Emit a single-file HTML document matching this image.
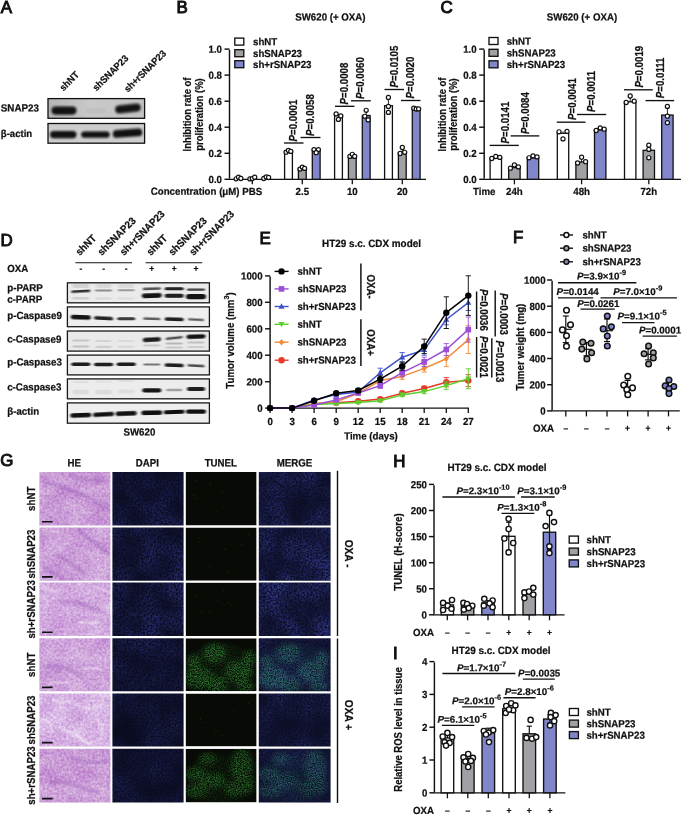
<!DOCTYPE html>
<html lang="en">
<head>
<meta charset="utf-8">
<title>Figure: SNAP23 and oxaliplatin sensitivity</title>
<style>
html,body{margin:0;padding:0;background:#fff;}
body{width:685px;height:815px;overflow:hidden;}
svg{display:block;font-family:"Liberation Sans",Arial,Helvetica,sans-serif;}
</style>
</head>
<body>
<svg width="685" height="815" viewBox="0 0 685 815">
<defs>
<filter id="b1" x="-0.2" y="-0.6" width="1.4" height="2.2"><feGaussianBlur stdDeviation="0.8 0.55"/></filter>
<filter id="b2" x="-0.2" y="-0.6" width="1.4" height="2.2"><feGaussianBlur stdDeviation="1.3 0.9"/></filter>
<linearGradient id="gA1" x1="0" x2="1" y1="0" y2="0"><stop offset="0" stop-color="#b4b4b4"/><stop offset="0.45" stop-color="#c9c9c9"/><stop offset="1" stop-color="#c2c2c2"/></linearGradient>
<clipPath id="clipA1"><rect x="48.0" y="98.6" width="96.6" height="19.7"/></clipPath>
<clipPath id="clipA2"><rect x="48.0" y="123.5" width="96.6" height="19.7"/></clipPath>
<filter id="gsp" x="-0.3" y="-0.3" width="1.6" height="1.6" color-interpolation-filters="sRGB">
<feGaussianBlur in="SourceGraphic" stdDeviation="2.4" result="b"/>
<feTurbulence type="fractalNoise" baseFrequency="0.85" numOctaves="2" seed="5" result="n"/>
<feColorMatrix in="n" type="matrix" values="0 0 0 0 1  0 0 0 0 1  0 0 0 0 1  2.4 0 0 0 -0.72" result="m"/>
<feComposite in="b" in2="m" operator="in"/>
</filter>
<filter id="soft" x="-0.3" y="-0.3" width="1.6" height="1.6"><feGaussianBlur stdDeviation="1.4"/></filter>
<filter id="soft0" x="-0.3" y="-0.5" width="1.6" height="2"><feGaussianBlur stdDeviation="1.0"/></filter>
<filter id="soft2" x="-0.3" y="-0.3" width="1.6" height="1.6"><feGaussianBlur stdDeviation="2.6"/></filter>
<clipPath id="c00"><rect x="39.4" y="472.0" width="71.0" height="53.5"/></clipPath>
<filter id="he0" x="0" y="0" width="1" height="1" color-interpolation-filters="sRGB">
<feTurbulence type="fractalNoise" baseFrequency="0.045 0.06" numOctaves="3" seed="3" result="n1"/>
<feColorMatrix in="n1" type="matrix" values="1 0 0 0 0  1 0 0 0 0  1 0 0 0 0  0 0 0 0 1" result="c1"/>
<feTurbulence type="fractalNoise" baseFrequency="0.42" numOctaves="2" seed="6" result="n2"/>
<feColorMatrix in="n2" type="matrix" values="1 0 0 0 0  1 0 0 0 0  1 0 0 0 0  0 0 0 0 1" result="c2"/>
<feComposite in="c1" in2="c2" operator="arithmetic" k1="0" k2="0.36" k3="0.64" k4="0" result="m"/>
<feColorMatrix in="m" type="matrix" values="0.30 0 0 0 0.640  0.62 0 0 0 0.300  0.22 0 0 0 0.730  0 0 0 0 1" result="o"/>
<feGaussianBlur in="o" stdDeviation="0.55"/>
</filter>
<clipPath id="c01"><rect x="112.4" y="472.0" width="71.2" height="53.5"/></clipPath>
<filter id="da0" x="0" y="0" width="1" height="1" color-interpolation-filters="sRGB">
<feTurbulence type="fractalNoise" baseFrequency="0.035" numOctaves="2" seed="20" result="lo"/>
<feColorMatrix in="lo" type="matrix" values="1.8 0 0 0 -0.35  1.8 0 0 0 -0.35  1.8 0 0 0 -0.35  0 0 0 0 1" result="lo1"/>
<feTurbulence type="fractalNoise" baseFrequency="0.55" numOctaves="2" seed="31" result="hi"/>
<feColorMatrix in="hi" type="matrix" values="2.4 0 0 0 -0.7  2.4 0 0 0 -0.7  2.4 0 0 0 -0.7  0 0 0 0 1" result="hi1"/>
<feComposite in="lo1" in2="hi1" operator="arithmetic" k1="1" k2="0" k3="0" k4="0" result="m"/>
<feColorMatrix in="m" type="matrix" values="0.095 0 0 0 0.040  0.109 0 0 0 0.045  0.257 0 0 0 0.125  0 0 0 0 1" result="o"/>
<feGaussianBlur in="o" stdDeviation="0.4"/>
</filter>
<clipPath id="c02"><rect x="185.6" y="472.0" width="71.0" height="53.5"/></clipPath>
<clipPath id="c03"><rect x="258.8" y="472.0" width="71.8" height="53.5"/></clipPath>
<filter id="me0" x="0" y="0" width="1" height="1" color-interpolation-filters="sRGB">
<feTurbulence type="fractalNoise" baseFrequency="0.035" numOctaves="2" seed="20" result="lo"/>
<feColorMatrix in="lo" type="matrix" values="1.8 0 0 0 -0.35  1.8 0 0 0 -0.35  1.8 0 0 0 -0.35  0 0 0 0 1" result="lo1"/>
<feTurbulence type="fractalNoise" baseFrequency="0.55" numOctaves="2" seed="31" result="hi"/>
<feColorMatrix in="hi" type="matrix" values="2.4 0 0 0 -0.7  2.4 0 0 0 -0.7  2.4 0 0 0 -0.7  0 0 0 0 1" result="hi1"/>
<feComposite in="lo1" in2="hi1" operator="arithmetic" k1="1" k2="0" k3="0" k4="0" result="m"/>
<feColorMatrix in="m" type="matrix" values="0.125 0 0 0 0.045  0.144 0 0 0 0.052  0.338 0 0 0 0.140  0 0 0 0 1" result="o"/>
<feGaussianBlur in="o" stdDeviation="0.4"/>
</filter>
<clipPath id="c10"><rect x="39.4" y="527.5" width="71.0" height="53.2"/></clipPath>
<filter id="he1" x="0" y="0" width="1" height="1" color-interpolation-filters="sRGB">
<feTurbulence type="fractalNoise" baseFrequency="0.045 0.06" numOctaves="3" seed="10" result="n1"/>
<feColorMatrix in="n1" type="matrix" values="1 0 0 0 0  1 0 0 0 0  1 0 0 0 0  0 0 0 0 1" result="c1"/>
<feTurbulence type="fractalNoise" baseFrequency="0.42" numOctaves="2" seed="13" result="n2"/>
<feColorMatrix in="n2" type="matrix" values="1 0 0 0 0  1 0 0 0 0  1 0 0 0 0  0 0 0 0 1" result="c2"/>
<feComposite in="c1" in2="c2" operator="arithmetic" k1="0" k2="0.36" k3="0.64" k4="0" result="m"/>
<feColorMatrix in="m" type="matrix" values="0.30 0 0 0 0.650  0.62 0 0 0 0.318  0.22 0 0 0 0.740  0 0 0 0 1" result="o"/>
<feGaussianBlur in="o" stdDeviation="0.55"/>
</filter>
<clipPath id="c11"><rect x="112.4" y="527.5" width="71.2" height="53.2"/></clipPath>
<filter id="da1" x="0" y="0" width="1" height="1" color-interpolation-filters="sRGB">
<feTurbulence type="fractalNoise" baseFrequency="0.035" numOctaves="2" seed="25" result="lo"/>
<feColorMatrix in="lo" type="matrix" values="1.8 0 0 0 -0.35  1.8 0 0 0 -0.35  1.8 0 0 0 -0.35  0 0 0 0 1" result="lo1"/>
<feTurbulence type="fractalNoise" baseFrequency="0.55" numOctaves="2" seed="36" result="hi"/>
<feColorMatrix in="hi" type="matrix" values="2.4 0 0 0 -0.7  2.4 0 0 0 -0.7  2.4 0 0 0 -0.7  0 0 0 0 1" result="hi1"/>
<feComposite in="lo1" in2="hi1" operator="arithmetic" k1="1" k2="0" k3="0" k4="0" result="m"/>
<feColorMatrix in="m" type="matrix" values="0.105 0 0 0 0.040  0.121 0 0 0 0.045  0.284 0 0 0 0.125  0 0 0 0 1" result="o"/>
<feGaussianBlur in="o" stdDeviation="0.4"/>
</filter>
<clipPath id="c12"><rect x="185.6" y="527.5" width="71.0" height="53.2"/></clipPath>
<clipPath id="c13"><rect x="258.8" y="527.5" width="71.8" height="53.2"/></clipPath>
<filter id="me1" x="0" y="0" width="1" height="1" color-interpolation-filters="sRGB">
<feTurbulence type="fractalNoise" baseFrequency="0.035" numOctaves="2" seed="25" result="lo"/>
<feColorMatrix in="lo" type="matrix" values="1.8 0 0 0 -0.35  1.8 0 0 0 -0.35  1.8 0 0 0 -0.35  0 0 0 0 1" result="lo1"/>
<feTurbulence type="fractalNoise" baseFrequency="0.55" numOctaves="2" seed="36" result="hi"/>
<feColorMatrix in="hi" type="matrix" values="2.4 0 0 0 -0.7  2.4 0 0 0 -0.7  2.4 0 0 0 -0.7  0 0 0 0 1" result="hi1"/>
<feComposite in="lo1" in2="hi1" operator="arithmetic" k1="1" k2="0" k3="0" k4="0" result="m"/>
<feColorMatrix in="m" type="matrix" values="0.140 0 0 0 0.045  0.161 0 0 0 0.052  0.378 0 0 0 0.140  0 0 0 0 1" result="o"/>
<feGaussianBlur in="o" stdDeviation="0.4"/>
</filter>
<clipPath id="c20"><rect x="39.4" y="582.6" width="71.0" height="53.5"/></clipPath>
<filter id="he2" x="0" y="0" width="1" height="1" color-interpolation-filters="sRGB">
<feTurbulence type="fractalNoise" baseFrequency="0.045 0.06" numOctaves="3" seed="17" result="n1"/>
<feColorMatrix in="n1" type="matrix" values="1 0 0 0 0  1 0 0 0 0  1 0 0 0 0  0 0 0 0 1" result="c1"/>
<feTurbulence type="fractalNoise" baseFrequency="0.42" numOctaves="2" seed="20" result="n2"/>
<feColorMatrix in="n2" type="matrix" values="1 0 0 0 0  1 0 0 0 0  1 0 0 0 0  0 0 0 0 1" result="c2"/>
<feComposite in="c1" in2="c2" operator="arithmetic" k1="0" k2="0.36" k3="0.64" k4="0" result="m"/>
<feColorMatrix in="m" type="matrix" values="0.30 0 0 0 0.670  0.62 0 0 0 0.354  0.22 0 0 0 0.760  0 0 0 0 1" result="o"/>
<feGaussianBlur in="o" stdDeviation="0.55"/>
</filter>
<clipPath id="c21"><rect x="112.4" y="582.6" width="71.2" height="53.5"/></clipPath>
<filter id="da2" x="0" y="0" width="1" height="1" color-interpolation-filters="sRGB">
<feTurbulence type="fractalNoise" baseFrequency="0.035" numOctaves="2" seed="30" result="lo"/>
<feColorMatrix in="lo" type="matrix" values="1.8 0 0 0 -0.35  1.8 0 0 0 -0.35  1.8 0 0 0 -0.35  0 0 0 0 1" result="lo1"/>
<feTurbulence type="fractalNoise" baseFrequency="0.55" numOctaves="2" seed="41" result="hi"/>
<feColorMatrix in="hi" type="matrix" values="2.4 0 0 0 -0.7  2.4 0 0 0 -0.7  2.4 0 0 0 -0.7  0 0 0 0 1" result="hi1"/>
<feComposite in="lo1" in2="hi1" operator="arithmetic" k1="1" k2="0" k3="0" k4="0" result="m"/>
<feColorMatrix in="m" type="matrix" values="0.120 0 0 0 0.040  0.138 0 0 0 0.045  0.324 0 0 0 0.125  0 0 0 0 1" result="o"/>
<feGaussianBlur in="o" stdDeviation="0.4"/>
</filter>
<clipPath id="c22"><rect x="185.6" y="582.6" width="71.0" height="53.5"/></clipPath>
<clipPath id="c23"><rect x="258.8" y="582.6" width="71.8" height="53.5"/></clipPath>
<filter id="me2" x="0" y="0" width="1" height="1" color-interpolation-filters="sRGB">
<feTurbulence type="fractalNoise" baseFrequency="0.035" numOctaves="2" seed="30" result="lo"/>
<feColorMatrix in="lo" type="matrix" values="1.8 0 0 0 -0.35  1.8 0 0 0 -0.35  1.8 0 0 0 -0.35  0 0 0 0 1" result="lo1"/>
<feTurbulence type="fractalNoise" baseFrequency="0.55" numOctaves="2" seed="41" result="hi"/>
<feColorMatrix in="hi" type="matrix" values="2.4 0 0 0 -0.7  2.4 0 0 0 -0.7  2.4 0 0 0 -0.7  0 0 0 0 1" result="hi1"/>
<feComposite in="lo1" in2="hi1" operator="arithmetic" k1="1" k2="0" k3="0" k4="0" result="m"/>
<feColorMatrix in="m" type="matrix" values="0.150 0 0 0 0.045  0.173 0 0 0 0.052  0.405 0 0 0 0.140  0 0 0 0 1" result="o"/>
<feGaussianBlur in="o" stdDeviation="0.4"/>
</filter>
<clipPath id="c30"><rect x="39.4" y="638.3" width="71.0" height="52.9"/></clipPath>
<filter id="he3" x="0" y="0" width="1" height="1" color-interpolation-filters="sRGB">
<feTurbulence type="fractalNoise" baseFrequency="0.045 0.06" numOctaves="3" seed="24" result="n1"/>
<feColorMatrix in="n1" type="matrix" values="1 0 0 0 0  1 0 0 0 0  1 0 0 0 0  0 0 0 0 1" result="c1"/>
<feTurbulence type="fractalNoise" baseFrequency="0.42" numOctaves="2" seed="27" result="n2"/>
<feColorMatrix in="n2" type="matrix" values="1 0 0 0 0  1 0 0 0 0  1 0 0 0 0  0 0 0 0 1" result="c2"/>
<feComposite in="c1" in2="c2" operator="arithmetic" k1="0" k2="0.36" k3="0.64" k4="0" result="m"/>
<feColorMatrix in="m" type="matrix" values="0.30 0 0 0 0.655  0.62 0 0 0 0.327  0.22 0 0 0 0.745  0 0 0 0 1" result="o"/>
<feGaussianBlur in="o" stdDeviation="0.55"/>
</filter>
<clipPath id="c31"><rect x="112.4" y="638.3" width="71.2" height="52.9"/></clipPath>
<filter id="da3" x="0" y="0" width="1" height="1" color-interpolation-filters="sRGB">
<feTurbulence type="fractalNoise" baseFrequency="0.035" numOctaves="2" seed="35" result="lo"/>
<feColorMatrix in="lo" type="matrix" values="1.8 0 0 0 -0.35  1.8 0 0 0 -0.35  1.8 0 0 0 -0.35  0 0 0 0 1" result="lo1"/>
<feTurbulence type="fractalNoise" baseFrequency="0.55" numOctaves="2" seed="46" result="hi"/>
<feColorMatrix in="hi" type="matrix" values="2.4 0 0 0 -0.7  2.4 0 0 0 -0.7  2.4 0 0 0 -0.7  0 0 0 0 1" result="hi1"/>
<feComposite in="lo1" in2="hi1" operator="arithmetic" k1="1" k2="0" k3="0" k4="0" result="m"/>
<feColorMatrix in="m" type="matrix" values="0.085 0 0 0 0.040  0.098 0 0 0 0.045  0.230 0 0 0 0.125  0 0 0 0 1" result="o"/>
<feGaussianBlur in="o" stdDeviation="0.4"/>
</filter>
<clipPath id="c32"><rect x="185.6" y="638.3" width="71.0" height="52.9"/></clipPath>
<clipPath id="c33"><rect x="258.8" y="638.3" width="71.8" height="52.9"/></clipPath>
<filter id="me3" x="0" y="0" width="1" height="1" color-interpolation-filters="sRGB">
<feTurbulence type="fractalNoise" baseFrequency="0.035" numOctaves="2" seed="35" result="lo"/>
<feColorMatrix in="lo" type="matrix" values="1.8 0 0 0 -0.35  1.8 0 0 0 -0.35  1.8 0 0 0 -0.35  0 0 0 0 1" result="lo1"/>
<feTurbulence type="fractalNoise" baseFrequency="0.55" numOctaves="2" seed="46" result="hi"/>
<feColorMatrix in="hi" type="matrix" values="2.4 0 0 0 -0.7  2.4 0 0 0 -0.7  2.4 0 0 0 -0.7  0 0 0 0 1" result="hi1"/>
<feComposite in="lo1" in2="hi1" operator="arithmetic" k1="1" k2="0" k3="0" k4="0" result="m"/>
<feColorMatrix in="m" type="matrix" values="0.095 0 0 0 0.045  0.109 0 0 0 0.052  0.257 0 0 0 0.140  0 0 0 0 1" result="o"/>
<feGaussianBlur in="o" stdDeviation="0.4"/>
</filter>
<clipPath id="c40"><rect x="39.4" y="693.5" width="71.0" height="52.9"/></clipPath>
<filter id="he4" x="0" y="0" width="1" height="1" color-interpolation-filters="sRGB">
<feTurbulence type="fractalNoise" baseFrequency="0.045 0.06" numOctaves="3" seed="31" result="n1"/>
<feColorMatrix in="n1" type="matrix" values="1 0 0 0 0  1 0 0 0 0  1 0 0 0 0  0 0 0 0 1" result="c1"/>
<feTurbulence type="fractalNoise" baseFrequency="0.42" numOctaves="2" seed="34" result="n2"/>
<feColorMatrix in="n2" type="matrix" values="1 0 0 0 0  1 0 0 0 0  1 0 0 0 0  0 0 0 0 1" result="c2"/>
<feComposite in="c1" in2="c2" operator="arithmetic" k1="0" k2="0.36" k3="0.64" k4="0" result="m"/>
<feColorMatrix in="m" type="matrix" values="0.30 0 0 0 0.690  0.62 0 0 0 0.390  0.22 0 0 0 0.780  0 0 0 0 1" result="o"/>
<feGaussianBlur in="o" stdDeviation="0.55"/>
</filter>
<clipPath id="c41"><rect x="112.4" y="693.5" width="71.2" height="52.9"/></clipPath>
<filter id="da4" x="0" y="0" width="1" height="1" color-interpolation-filters="sRGB">
<feTurbulence type="fractalNoise" baseFrequency="0.035" numOctaves="2" seed="40" result="lo"/>
<feColorMatrix in="lo" type="matrix" values="1.8 0 0 0 -0.35  1.8 0 0 0 -0.35  1.8 0 0 0 -0.35  0 0 0 0 1" result="lo1"/>
<feTurbulence type="fractalNoise" baseFrequency="0.55" numOctaves="2" seed="51" result="hi"/>
<feColorMatrix in="hi" type="matrix" values="2.4 0 0 0 -0.7  2.4 0 0 0 -0.7  2.4 0 0 0 -0.7  0 0 0 0 1" result="hi1"/>
<feComposite in="lo1" in2="hi1" operator="arithmetic" k1="1" k2="0" k3="0" k4="0" result="m"/>
<feColorMatrix in="m" type="matrix" values="0.070 0 0 0 0.040  0.081 0 0 0 0.045  0.189 0 0 0 0.125  0 0 0 0 1" result="o"/>
<feGaussianBlur in="o" stdDeviation="0.4"/>
</filter>
<clipPath id="c42"><rect x="185.6" y="693.5" width="71.0" height="52.9"/></clipPath>
<clipPath id="c43"><rect x="258.8" y="693.5" width="71.8" height="52.9"/></clipPath>
<filter id="me4" x="0" y="0" width="1" height="1" color-interpolation-filters="sRGB">
<feTurbulence type="fractalNoise" baseFrequency="0.035" numOctaves="2" seed="40" result="lo"/>
<feColorMatrix in="lo" type="matrix" values="1.8 0 0 0 -0.35  1.8 0 0 0 -0.35  1.8 0 0 0 -0.35  0 0 0 0 1" result="lo1"/>
<feTurbulence type="fractalNoise" baseFrequency="0.55" numOctaves="2" seed="51" result="hi"/>
<feColorMatrix in="hi" type="matrix" values="2.4 0 0 0 -0.7  2.4 0 0 0 -0.7  2.4 0 0 0 -0.7  0 0 0 0 1" result="hi1"/>
<feComposite in="lo1" in2="hi1" operator="arithmetic" k1="1" k2="0" k3="0" k4="0" result="m"/>
<feColorMatrix in="m" type="matrix" values="0.080 0 0 0 0.045  0.092 0 0 0 0.052  0.216 0 0 0 0.140  0 0 0 0 1" result="o"/>
<feGaussianBlur in="o" stdDeviation="0.4"/>
</filter>
<clipPath id="c50"><rect x="39.4" y="748.7" width="71.0" height="53.7"/></clipPath>
<filter id="he5" x="0" y="0" width="1" height="1" color-interpolation-filters="sRGB">
<feTurbulence type="fractalNoise" baseFrequency="0.045 0.06" numOctaves="3" seed="38" result="n1"/>
<feColorMatrix in="n1" type="matrix" values="1 0 0 0 0  1 0 0 0 0  1 0 0 0 0  0 0 0 0 1" result="c1"/>
<feTurbulence type="fractalNoise" baseFrequency="0.42" numOctaves="2" seed="41" result="n2"/>
<feColorMatrix in="n2" type="matrix" values="1 0 0 0 0  1 0 0 0 0  1 0 0 0 0  0 0 0 0 1" result="c2"/>
<feComposite in="c1" in2="c2" operator="arithmetic" k1="0" k2="0.36" k3="0.64" k4="0" result="m"/>
<feColorMatrix in="m" type="matrix" values="0.30 0 0 0 0.640  0.62 0 0 0 0.300  0.22 0 0 0 0.730  0 0 0 0 1" result="o"/>
<feGaussianBlur in="o" stdDeviation="0.55"/>
</filter>
<clipPath id="c51"><rect x="112.4" y="748.7" width="71.2" height="53.7"/></clipPath>
<filter id="da5" x="0" y="0" width="1" height="1" color-interpolation-filters="sRGB">
<feTurbulence type="fractalNoise" baseFrequency="0.035" numOctaves="2" seed="45" result="lo"/>
<feColorMatrix in="lo" type="matrix" values="1.8 0 0 0 -0.35  1.8 0 0 0 -0.35  1.8 0 0 0 -0.35  0 0 0 0 1" result="lo1"/>
<feTurbulence type="fractalNoise" baseFrequency="0.55" numOctaves="2" seed="56" result="hi"/>
<feColorMatrix in="hi" type="matrix" values="2.4 0 0 0 -0.7  2.4 0 0 0 -0.7  2.4 0 0 0 -0.7  0 0 0 0 1" result="hi1"/>
<feComposite in="lo1" in2="hi1" operator="arithmetic" k1="1" k2="0" k3="0" k4="0" result="m"/>
<feColorMatrix in="m" type="matrix" values="0.070 0 0 0 0.040  0.081 0 0 0 0.045  0.189 0 0 0 0.125  0 0 0 0 1" result="o"/>
<feGaussianBlur in="o" stdDeviation="0.4"/>
</filter>
<clipPath id="c52"><rect x="185.6" y="748.7" width="71.0" height="53.7"/></clipPath>
<clipPath id="c53"><rect x="258.8" y="748.7" width="71.8" height="53.7"/></clipPath>
<filter id="me5" x="0" y="0" width="1" height="1" color-interpolation-filters="sRGB">
<feTurbulence type="fractalNoise" baseFrequency="0.035" numOctaves="2" seed="45" result="lo"/>
<feColorMatrix in="lo" type="matrix" values="1.8 0 0 0 -0.35  1.8 0 0 0 -0.35  1.8 0 0 0 -0.35  0 0 0 0 1" result="lo1"/>
<feTurbulence type="fractalNoise" baseFrequency="0.55" numOctaves="2" seed="56" result="hi"/>
<feColorMatrix in="hi" type="matrix" values="2.4 0 0 0 -0.7  2.4 0 0 0 -0.7  2.4 0 0 0 -0.7  0 0 0 0 1" result="hi1"/>
<feComposite in="lo1" in2="hi1" operator="arithmetic" k1="1" k2="0" k3="0" k4="0" result="m"/>
<feColorMatrix in="m" type="matrix" values="0.080 0 0 0 0.045  0.092 0 0 0 0.052  0.216 0 0 0 0.140  0 0 0 0 1" result="o"/>
<feGaussianBlur in="o" stdDeviation="0.4"/>
</filter>
</defs>
<rect x="0" y="0" width="685" height="815" fill="#ffffff"/>
<text x="0.2" y="466.2" font-size="16.9" font-weight="normal" fill="#111" stroke="#111" stroke-width="1.0">G</text>
<text transform="translate(74.3 466.5) rotate(0.05) scale(1.000 1.120)" font-size="9.70" text-anchor="middle" font-weight="bold" fill="#111" stroke="#111" stroke-width="0.22">HE</text>
<text transform="translate(147.3 466.5) rotate(0.05) scale(1.000 1.120)" font-size="9.70" text-anchor="middle" font-weight="bold" fill="#111" stroke="#111" stroke-width="0.22">DAPI</text>
<text transform="translate(220.8 466.5) rotate(0.05) scale(1.000 1.120)" font-size="9.70" text-anchor="middle" font-weight="bold" fill="#111" stroke="#111" stroke-width="0.22">TUNEL</text>
<text transform="translate(294.4 466.5) rotate(0.05) scale(1.000 1.120)" font-size="9.70" text-anchor="middle" font-weight="bold" fill="#111" stroke="#111" stroke-width="0.22">MERGE</text>
<text transform="translate(35.3 498.8) rotate(-90) scale(1.000 1.130)" font-size="9.70" text-anchor="middle" font-weight="bold" fill="#111" stroke="#111" stroke-width="0.22">shNT</text>
<text transform="translate(35.3 554.1) rotate(-90) scale(1.000 1.130)" font-size="9.70" text-anchor="middle" font-weight="bold" fill="#111" stroke="#111" stroke-width="0.22">shSNAP23</text>
<text transform="translate(35.3 609.4) rotate(-90) scale(1.000 1.130)" font-size="9.70" text-anchor="middle" font-weight="bold" fill="#111" stroke="#111" stroke-width="0.22">sh+rSNAP23</text>
<text transform="translate(35.3 664.8) rotate(-90) scale(1.000 1.130)" font-size="9.70" text-anchor="middle" font-weight="bold" fill="#111" stroke="#111" stroke-width="0.22">shNT</text>
<text transform="translate(35.3 720.0) rotate(-90) scale(1.000 1.130)" font-size="9.70" text-anchor="middle" font-weight="bold" fill="#111" stroke="#111" stroke-width="0.22">shSNAP23</text>
<text transform="translate(35.3 775.5) rotate(-90) scale(1.000 1.130)" font-size="9.70" text-anchor="middle" font-weight="bold" fill="#111" stroke="#111" stroke-width="0.22">sh+rSNAP23</text>
<line x1="337.5" y1="470.8" x2="337.5" y2="636.0" stroke="#111" stroke-width="1.40" stroke-linecap="butt"/>
<line x1="337.5" y1="638.5" x2="337.5" y2="803.0" stroke="#111" stroke-width="1.40" stroke-linecap="butt"/>
<text transform="translate(345.2 553.6) rotate(90) scale(1.000 1.040)" font-size="10.20" text-anchor="middle" font-weight="bold" fill="#111" stroke="#111" stroke-width="0.22">OXA -</text>
<text transform="translate(345.2 715.0) rotate(90) scale(1.000 1.040)" font-size="10.20" text-anchor="middle" font-weight="bold" fill="#111" stroke="#111" stroke-width="0.22">OXA +</text>
<g clip-path="url(#c00)">
<rect x="39.4" y="472.0" width="71.0" height="53.5" fill="#d3a2d6" stroke="none" stroke-width="0.00" filter="url(#he0)"/>
<path transform="translate(39.4 472.0)" d="M4 10 C20 14 34 20 46 24 S60 36 70 36" fill="none" stroke="#8f4fb0" stroke-opacity="0.5" stroke-width="2.6" filter="url(#soft)"/>
<path transform="translate(39.4 472.0)" d="M30 2 C40 8 52 10 66 8" fill="none" stroke="#8f4fb0" stroke-opacity="0.5" stroke-width="2.6" filter="url(#soft)"/>
<line x1="42.0" y1="521.7" x2="52.6" y2="521.7" stroke="#111" stroke-width="1.60" stroke-linecap="butt"/>
</g>
<g clip-path="url(#c01)">
<rect x="112.4" y="472.0" width="71.2" height="53.5" fill="#10123a" stroke="none" stroke-width="0.00" filter="url(#da0)"/>
</g>
<g clip-path="url(#c02)">
<rect x="185.6" y="472.0" width="71.0" height="53.5" fill="#080a05" stroke="none" stroke-width="0.00"/>
<circle cx="210.4" cy="483.3" r="0.7" fill="#2f7a2c" fill-opacity="0.32"/>
<circle cx="229.4" cy="480.0" r="0.7" fill="#2f7a2c" fill-opacity="0.32"/>
<circle cx="222.7" cy="492.4" r="0.7" fill="#2f7a2c" fill-opacity="0.32"/>
<circle cx="195.0" cy="498.3" r="0.7" fill="#2f7a2c" fill-opacity="0.32"/>
<circle cx="193.8" cy="495.2" r="0.7" fill="#2f7a2c" fill-opacity="0.32"/>
<circle cx="195.7" cy="480.8" r="0.7" fill="#2f7a2c" fill-opacity="0.32"/>
<circle cx="216.2" cy="511.7" r="0.7" fill="#2f7a2c" fill-opacity="0.32"/>
</g>
<g clip-path="url(#c03)">
<rect x="258.8" y="472.0" width="71.8" height="53.5" fill="#141846" stroke="none" stroke-width="0.00" filter="url(#me0)"/>
</g>
<g clip-path="url(#c10)">
<rect x="39.4" y="527.5" width="71.0" height="53.2" fill="#d3a2d6" stroke="none" stroke-width="0.00" filter="url(#he1)"/>
<path transform="translate(39.4 527.5)" d="M16 26 C26 30 34 40 46 46" fill="none" stroke="#8f4fb0" stroke-opacity="0.5" stroke-width="2.6" filter="url(#soft)"/>
<path transform="translate(39.4 527.5)" d="M40 4 C52 10 60 22 70 26" fill="none" stroke="#8f4fb0" stroke-opacity="0.5" stroke-width="2.6" filter="url(#soft)"/>
<path transform="translate(39.4 527.5)" d="M4 40 C12 44 20 48 26 52" fill="none" stroke="#8f4fb0" stroke-opacity="0.5" stroke-width="2.6" filter="url(#soft)"/>
<line x1="42.0" y1="576.9" x2="52.6" y2="576.9" stroke="#111" stroke-width="1.60" stroke-linecap="butt"/>
</g>
<g clip-path="url(#c11)">
<rect x="112.4" y="527.5" width="71.2" height="53.2" fill="#10123a" stroke="none" stroke-width="0.00" filter="url(#da1)"/>
</g>
<g clip-path="url(#c12)">
<rect x="185.6" y="527.5" width="71.0" height="53.2" fill="#080a05" stroke="none" stroke-width="0.00"/>
<circle cx="198.8" cy="541.9" r="0.7" fill="#2f7a2c" fill-opacity="0.32"/>
<circle cx="228.0" cy="572.3" r="0.7" fill="#2f7a2c" fill-opacity="0.32"/>
<circle cx="225.1" cy="549.2" r="0.7" fill="#2f7a2c" fill-opacity="0.32"/>
<circle cx="248.2" cy="534.5" r="0.7" fill="#2f7a2c" fill-opacity="0.32"/>
<circle cx="241.4" cy="544.7" r="0.7" fill="#2f7a2c" fill-opacity="0.32"/>
<circle cx="200.0" cy="537.4" r="0.7" fill="#2f7a2c" fill-opacity="0.32"/>
<circle cx="209.5" cy="566.8" r="0.7" fill="#2f7a2c" fill-opacity="0.32"/>
</g>
<g clip-path="url(#c13)">
<rect x="258.8" y="527.5" width="71.8" height="53.2" fill="#141846" stroke="none" stroke-width="0.00" filter="url(#me1)"/>
</g>
<g clip-path="url(#c20)">
<rect x="39.4" y="582.6" width="71.0" height="53.5" fill="#d3a2d6" stroke="none" stroke-width="0.00" filter="url(#he2)"/>
<path transform="translate(39.4 582.6)" d="M20 20 C34 16 50 24 66 30" fill="none" stroke="#8f4fb0" stroke-opacity="0.5" stroke-width="2.6" filter="url(#soft)"/>
<path transform="translate(39.4 582.6)" d="M2 4 C8 6 12 10 20 8" fill="none" stroke="#fbf6fb" stroke-opacity="0.55" stroke-width="2.2" stroke-linecap="round" stroke-dasharray="5 2.5 2 1.5 7 3" filter="url(#soft0)"/>
<path transform="translate(39.4 582.6)" d="M4 14 C8 16 10 20 6 24" fill="none" stroke="#fbf6fb" stroke-opacity="0.55" stroke-width="2.2" stroke-linecap="round" stroke-dasharray="5 2.5 2 1.5 7 3" filter="url(#soft0)"/>
<path transform="translate(39.4 582.6)" d="M40 40 C46 38 52 42 58 40" fill="none" stroke="#fbf6fb" stroke-opacity="0.55" stroke-width="2.2" stroke-linecap="round" stroke-dasharray="5 2.5 2 1.5 7 3" filter="url(#soft0)"/>
<path transform="translate(39.4 582.6)" d="M56 4 C60 8 66 6 70 10" fill="none" stroke="#fbf6fb" stroke-opacity="0.55" stroke-width="2.2" stroke-linecap="round" stroke-dasharray="5 2.5 2 1.5 7 3" filter="url(#soft0)"/>
<line x1="42.0" y1="632.3" x2="52.6" y2="632.3" stroke="#111" stroke-width="1.60" stroke-linecap="butt"/>
</g>
<g clip-path="url(#c21)">
<rect x="112.4" y="582.6" width="71.2" height="53.5" fill="#10123a" stroke="none" stroke-width="0.00" filter="url(#da2)"/>
</g>
<g clip-path="url(#c22)">
<rect x="185.6" y="582.6" width="71.0" height="53.5" fill="#080a05" stroke="none" stroke-width="0.00"/>
<circle cx="202.1" cy="612.0" r="0.7" fill="#2f7a2c" fill-opacity="0.32"/>
<circle cx="228.7" cy="603.2" r="0.7" fill="#2f7a2c" fill-opacity="0.32"/>
<circle cx="223.4" cy="590.2" r="0.7" fill="#2f7a2c" fill-opacity="0.32"/>
<circle cx="195.1" cy="596.3" r="0.7" fill="#2f7a2c" fill-opacity="0.32"/>
<circle cx="231.1" cy="605.6" r="0.7" fill="#2f7a2c" fill-opacity="0.32"/>
<circle cx="209.8" cy="612.2" r="0.7" fill="#2f7a2c" fill-opacity="0.32"/>
<circle cx="217.9" cy="600.2" r="0.7" fill="#2f7a2c" fill-opacity="0.32"/>
</g>
<g clip-path="url(#c23)">
<rect x="258.8" y="582.6" width="71.8" height="53.5" fill="#141846" stroke="none" stroke-width="0.00" filter="url(#me2)"/>
</g>
<g clip-path="url(#c30)">
<rect x="39.4" y="638.3" width="71.0" height="52.9" fill="#d3a2d6" stroke="none" stroke-width="0.00" filter="url(#he3)"/>
<path transform="translate(39.4 638.3)" d="M4 30 C16 24 30 30 44 40" fill="none" stroke="#8f4fb0" stroke-opacity="0.5" stroke-width="2.6" filter="url(#soft)"/>
<path transform="translate(39.4 638.3)" d="M10 44 C16 42 22 46 28 44" fill="none" stroke="#fbf6fb" stroke-opacity="0.55" stroke-width="2.2" stroke-linecap="round" stroke-dasharray="5 2.5 2 1.5 7 3" filter="url(#soft0)"/>
<path transform="translate(39.4 638.3)" d="M44 30 C50 28 54 32 60 30" fill="none" stroke="#fbf6fb" stroke-opacity="0.55" stroke-width="2.2" stroke-linecap="round" stroke-dasharray="5 2.5 2 1.5 7 3" filter="url(#soft0)"/>
<line x1="42.0" y1="687.4" x2="52.6" y2="687.4" stroke="#111" stroke-width="1.60" stroke-linecap="butt"/>
</g>
<g clip-path="url(#c31)">
<rect x="112.4" y="638.3" width="71.2" height="52.9" fill="#10123a" stroke="none" stroke-width="0.00" filter="url(#da3)"/>
</g>
<g clip-path="url(#c32)">
<rect x="185.6" y="638.3" width="71.0" height="52.9" fill="#080a05" stroke="none" stroke-width="0.00"/>
<g filter="url(#gsp)" opacity="0.9">
<ellipse cx="221.6" cy="668.3" rx="34" ry="25" fill="#1d5220" fill-opacity="0.4"/>
<ellipse cx="214.6" cy="653.3" rx="12.0" ry="10.0" fill="#2d7d30"/>
<ellipse cx="238.6" cy="671.3" rx="14.0" ry="11.0" fill="#2d7d30"/>
<ellipse cx="199.6" cy="678.3" rx="15.0" ry="11.0" fill="#2d7d30"/>
<ellipse cx="216.6" cy="684.3" rx="11.0" ry="8.0" fill="#2d7d30"/>
<ellipse cx="193.6" cy="662.3" rx="7.0" ry="8.0" fill="#2d7d30"/>
<ellipse cx="249.6" cy="658.3" rx="6.0" ry="8.0" fill="#2d7d30"/>
<ellipse cx="245.6" cy="686.3" rx="9.0" ry="5.0" fill="#2d7d30"/>
</g>
</g>
<g clip-path="url(#c33)">
<rect x="258.8" y="638.3" width="71.8" height="52.9" fill="#141846" stroke="none" stroke-width="0.00" filter="url(#me3)"/>
<g filter="url(#gsp)" opacity="0.62">
<ellipse cx="294.8" cy="668.3" rx="34" ry="25" fill="#20605a" fill-opacity="0.5"/>
<ellipse cx="287.8" cy="653.3" rx="12.0" ry="10.0" fill="#3c9f80"/>
<ellipse cx="311.8" cy="671.3" rx="14.0" ry="11.0" fill="#3c9f80"/>
<ellipse cx="272.8" cy="678.3" rx="15.0" ry="11.0" fill="#3c9f80"/>
<ellipse cx="289.8" cy="684.3" rx="11.0" ry="8.0" fill="#3c9f80"/>
<ellipse cx="266.8" cy="662.3" rx="7.0" ry="8.0" fill="#3c9f80"/>
<ellipse cx="322.8" cy="658.3" rx="6.0" ry="8.0" fill="#3c9f80"/>
<ellipse cx="318.8" cy="686.3" rx="9.0" ry="5.0" fill="#3c9f80"/>
</g>
</g>
<g clip-path="url(#c40)">
<rect x="39.4" y="693.5" width="71.0" height="52.9" fill="#d3a2d6" stroke="none" stroke-width="0.00" filter="url(#he4)"/>
<path transform="translate(39.4 693.5)" d="M14 6 C22 10 30 6 40 12 S56 14 64 10" fill="none" stroke="#fbf6fb" stroke-opacity="0.55" stroke-width="2.2" stroke-linecap="round" stroke-dasharray="5 2.5 2 1.5 7 3" filter="url(#soft0)"/>
<path transform="translate(39.4 693.5)" d="M20 34 C28 38 36 40 44 46 S56 48 64 44" fill="none" stroke="#fbf6fb" stroke-opacity="0.55" stroke-width="2.2" stroke-linecap="round" stroke-dasharray="5 2.5 2 1.5 7 3" filter="url(#soft0)"/>
<path transform="translate(39.4 693.5)" d="M36 40 C40 46 46 50 54 52" fill="none" stroke="#fbf6fb" stroke-opacity="0.55" stroke-width="2.2" stroke-linecap="round" stroke-dasharray="5 2.5 2 1.5 7 3" filter="url(#soft0)"/>
<path transform="translate(39.4 693.5)" d="M4 26 C10 28 14 34 12 40" fill="none" stroke="#fbf6fb" stroke-opacity="0.55" stroke-width="2.2" stroke-linecap="round" stroke-dasharray="5 2.5 2 1.5 7 3" filter="url(#soft0)"/>
<path transform="translate(39.4 693.5)" d="M58 26 C62 30 64 36 62 42" fill="none" stroke="#fbf6fb" stroke-opacity="0.55" stroke-width="2.2" stroke-linecap="round" stroke-dasharray="5 2.5 2 1.5 7 3" filter="url(#soft0)"/>
<line x1="42.0" y1="742.6" x2="52.6" y2="742.6" stroke="#111" stroke-width="1.60" stroke-linecap="butt"/>
</g>
<g clip-path="url(#c41)">
<rect x="112.4" y="693.5" width="71.2" height="52.9" fill="#10123a" stroke="none" stroke-width="0.00" filter="url(#da4)"/>
</g>
<g clip-path="url(#c42)">
<rect x="185.6" y="693.5" width="71.0" height="52.9" fill="#080a05" stroke="none" stroke-width="0.00"/>
<circle cx="237.7" cy="727.9" r="0.7" fill="#2f7a2c" fill-opacity="0.32"/>
<circle cx="205.8" cy="722.6" r="0.7" fill="#2f7a2c" fill-opacity="0.32"/>
<circle cx="222.1" cy="735.3" r="0.7" fill="#2f7a2c" fill-opacity="0.32"/>
<circle cx="233.9" cy="710.6" r="0.7" fill="#2f7a2c" fill-opacity="0.32"/>
<circle cx="248.5" cy="703.5" r="0.7" fill="#2f7a2c" fill-opacity="0.32"/>
<circle cx="215.9" cy="730.3" r="0.7" fill="#2f7a2c" fill-opacity="0.32"/>
<circle cx="200.4" cy="719.0" r="0.7" fill="#2f7a2c" fill-opacity="0.32"/>
</g>
<g clip-path="url(#c43)">
<rect x="258.8" y="693.5" width="71.8" height="52.9" fill="#141846" stroke="none" stroke-width="0.00" filter="url(#me4)"/>
</g>
<g clip-path="url(#c50)">
<rect x="39.4" y="748.7" width="71.0" height="53.7" fill="#d3a2d6" stroke="none" stroke-width="0.00" filter="url(#he5)"/>
<path transform="translate(39.4 748.7)" d="M10 34 C24 30 40 40 60 44" fill="none" stroke="#8f4fb0" stroke-opacity="0.5" stroke-width="2.6" filter="url(#soft)"/>
<path transform="translate(39.4 748.7)" d="M30 8 C42 14 54 16 68 12" fill="none" stroke="#8f4fb0" stroke-opacity="0.5" stroke-width="2.6" filter="url(#soft)"/>
<line x1="42.0" y1="798.6" x2="52.6" y2="798.6" stroke="#111" stroke-width="1.60" stroke-linecap="butt"/>
</g>
<g clip-path="url(#c51)">
<rect x="112.4" y="748.7" width="71.2" height="53.7" fill="#10123a" stroke="none" stroke-width="0.00" filter="url(#da5)"/>
</g>
<g clip-path="url(#c52)">
<rect x="185.6" y="748.7" width="71.0" height="53.7" fill="#080a05" stroke="none" stroke-width="0.00"/>
<g filter="url(#gsp)" opacity="0.78">
<ellipse cx="221.6" cy="778.7" rx="34" ry="25" fill="#1d5220" fill-opacity="0.4"/>
<ellipse cx="195.6" cy="773.7" rx="11.0" ry="7.0" fill="#2d7d30"/>
<ellipse cx="207.6" cy="758.7" rx="9.0" ry="6.0" fill="#2d7d30"/>
<ellipse cx="212.6" cy="780.7" rx="13.0" ry="8.0" fill="#2d7d30"/>
<ellipse cx="241.6" cy="765.7" rx="11.0" ry="17.0" fill="#2d7d30"/>
<ellipse cx="196.6" cy="790.7" rx="12.0" ry="7.0" fill="#2d7d30"/>
<ellipse cx="234.6" cy="788.7" rx="10.0" ry="8.0" fill="#2d7d30"/>
<ellipse cx="247.6" cy="784.7" rx="6.0" ry="10.0" fill="#2d7d30"/>
</g>
</g>
<g clip-path="url(#c53)">
<rect x="258.8" y="748.7" width="71.8" height="53.7" fill="#141846" stroke="none" stroke-width="0.00" filter="url(#me5)"/>
<g filter="url(#gsp)" opacity="0.5">
<ellipse cx="294.8" cy="778.7" rx="34" ry="25" fill="#20605a" fill-opacity="0.5"/>
<ellipse cx="268.8" cy="773.7" rx="11.0" ry="7.0" fill="#3c9f80"/>
<ellipse cx="280.8" cy="758.7" rx="9.0" ry="6.0" fill="#3c9f80"/>
<ellipse cx="285.8" cy="780.7" rx="13.0" ry="8.0" fill="#3c9f80"/>
<ellipse cx="314.8" cy="765.7" rx="11.0" ry="17.0" fill="#3c9f80"/>
<ellipse cx="269.8" cy="790.7" rx="12.0" ry="7.0" fill="#3c9f80"/>
<ellipse cx="307.8" cy="788.7" rx="10.0" ry="8.0" fill="#3c9f80"/>
<ellipse cx="320.8" cy="784.7" rx="6.0" ry="10.0" fill="#3c9f80"/>
</g>
</g>
<text x="0.7" y="13.2" font-size="16.9" font-weight="normal" fill="#111" stroke="#111" stroke-width="1.0">A</text>
<text transform="translate(63.5 91.5) rotate(-45) scale(1.000 1.060)" font-size="9.10" text-anchor="start" font-weight="bold" fill="#111" stroke="#111" stroke-width="0.22">shNT</text>
<text transform="translate(96.5 91.5) rotate(-45) scale(1.000 1.060)" font-size="9.10" text-anchor="start" font-weight="bold" fill="#111" stroke="#111" stroke-width="0.22">shSNAP23</text>
<text transform="translate(128.0 92.8) rotate(-45) scale(1.000 1.060)" font-size="9.10" text-anchor="start" font-weight="bold" fill="#111" stroke="#111" stroke-width="0.22">sh+rSNAP23</text>
<text transform="translate(0.8 111.5) rotate(0.05) scale(1.000 1.060)" font-size="9.80" text-anchor="start" font-weight="bold" fill="#111" stroke="#111" stroke-width="0.22">SNAP23</text>
<text transform="translate(0.8 137.0) rotate(0.05) scale(1.000 1.060)" font-size="9.60" text-anchor="start" font-weight="bold" fill="#111" stroke="#111" stroke-width="0.22">β-actin</text>
<g clip-path="url(#clipA1)">
<rect x="48.0" y="98.6" width="96.6" height="19.7" fill="url(#gA1)" stroke="none" stroke-width="0.00"/>
<rect x="51.5" y="106.5" width="25.0" height="8.2" rx="4.1" fill="#0a0a0a" fill-opacity="0.97" filter="url(#b2)"/>
<rect x="86.0" y="108.5" width="20.0" height="5.0" rx="2.5" fill="#0a0a0a" fill-opacity="0.05" filter="url(#b2)"/>
<rect x="115.2" y="104.6" width="25.5" height="8.0" rx="4.0" fill="#0a0a0a" fill-opacity="0.96" filter="url(#b2)" transform="rotate(-6.0 128.0 108.6)"/>
</g>
<rect x="48.0" y="98.6" width="96.6" height="19.7" fill="none" stroke="#111" stroke-width="1.30"/>
<g clip-path="url(#clipA2)">
<rect x="48.0" y="123.5" width="96.6" height="19.7" fill="#cdcdcd" stroke="none" stroke-width="0.00"/>
<rect x="50.0" y="131.0" width="26.5" height="7.2" rx="3.6" fill="#0a0a0a" fill-opacity="0.98" filter="url(#b2)"/>
<rect x="81.2" y="131.4" width="28.5" height="6.4" rx="3.2" fill="#0a0a0a" fill-opacity="0.98" filter="url(#b2)"/>
<rect x="112.8" y="129.3" width="29.5" height="7.8" rx="3.9" fill="#0a0a0a" fill-opacity="0.98" filter="url(#b2)" transform="rotate(-4.0 127.5 133.2)"/>
</g>
<rect x="48.0" y="123.5" width="96.6" height="19.7" fill="none" stroke="#111" stroke-width="1.30"/>
<text x="176.5" y="13.0" font-size="16.9" font-weight="normal" fill="#111" stroke="#111" stroke-width="1.0">B</text>
<text transform="translate(330.4 20.6) rotate(0.05) scale(1.000 1.060)" font-size="9.70" text-anchor="middle" font-weight="bold" fill="#111" stroke="#111" stroke-width="0.22">SW620 (+ OXA)</text>
<line x1="229.5" y1="49.8" x2="229.5" y2="178.6" stroke="#111" stroke-width="1.45" stroke-linecap="butt"/>
<line x1="224.5" y1="179.3" x2="229.5" y2="179.3" stroke="#111" stroke-width="1.45" stroke-linecap="butt"/>
<text transform="translate(222.0 183.0) rotate(0.05) scale(1.000 1.060)" font-size="9.70" text-anchor="end" font-weight="bold" fill="#111" stroke="#111" stroke-width="0.22">0.0</text>
<line x1="224.5" y1="153.3" x2="229.5" y2="153.3" stroke="#111" stroke-width="1.45" stroke-linecap="butt"/>
<text transform="translate(222.0 157.0) rotate(0.05) scale(1.000 1.060)" font-size="9.70" text-anchor="end" font-weight="bold" fill="#111" stroke="#111" stroke-width="0.22">0.2</text>
<line x1="224.5" y1="127.2" x2="229.5" y2="127.2" stroke="#111" stroke-width="1.45" stroke-linecap="butt"/>
<text transform="translate(222.0 130.9) rotate(0.05) scale(1.000 1.060)" font-size="9.70" text-anchor="end" font-weight="bold" fill="#111" stroke="#111" stroke-width="0.22">0.4</text>
<line x1="224.5" y1="101.2" x2="229.5" y2="101.2" stroke="#111" stroke-width="1.45" stroke-linecap="butt"/>
<text transform="translate(222.0 104.9) rotate(0.05) scale(1.000 1.060)" font-size="9.70" text-anchor="end" font-weight="bold" fill="#111" stroke="#111" stroke-width="0.22">0.6</text>
<line x1="224.5" y1="75.1" x2="229.5" y2="75.1" stroke="#111" stroke-width="1.45" stroke-linecap="butt"/>
<text transform="translate(222.0 78.8) rotate(0.05) scale(1.000 1.060)" font-size="9.70" text-anchor="end" font-weight="bold" fill="#111" stroke="#111" stroke-width="0.22">0.8</text>
<line x1="224.5" y1="49.1" x2="229.5" y2="49.1" stroke="#111" stroke-width="1.45" stroke-linecap="butt"/>
<text transform="translate(222.0 52.8) rotate(0.05) scale(1.000 1.060)" font-size="9.70" text-anchor="end" font-weight="bold" fill="#111" stroke="#111" stroke-width="0.22">1.0</text>
<line x1="228.8" y1="179.3" x2="426.0" y2="179.3" stroke="#111" stroke-width="1.30" stroke-linecap="butt"/>
<rect x="234.8" y="38.1" width="9.0" height="7.0" fill="#ffffff" stroke="#111" stroke-width="1.35"/>
<text transform="translate(253.0 45.3) rotate(0.05) scale(1.000 1.060)" font-size="9.70" text-anchor="start" font-weight="bold" fill="#111" stroke="#111" stroke-width="0.22">shNT</text>
<rect x="234.8" y="49.7" width="9.0" height="7.0" fill="#9fa1a5" stroke="#111" stroke-width="1.35"/>
<text transform="translate(253.0 56.9) rotate(0.05) scale(1.000 1.060)" font-size="9.70" text-anchor="start" font-weight="bold" fill="#111" stroke="#111" stroke-width="0.22">shSNAP23</text>
<rect x="234.8" y="60.7" width="9.0" height="7.0" fill="#8086c9" stroke="#111" stroke-width="1.35"/>
<text transform="translate(253.0 67.9) rotate(0.05) scale(1.000 1.060)" font-size="9.70" text-anchor="start" font-weight="bold" fill="#111" stroke="#111" stroke-width="0.22">sh+rSNAP23</text>
<text transform="translate(191.0 114.5) rotate(-90) scale(1.000 1.060)" font-size="9.45" text-anchor="middle" font-weight="bold" fill="#111" stroke="#111" stroke-width="0.22">Inhibition rate of</text>
<text transform="translate(202.5 114.5) rotate(-90) scale(1.000 1.060)" font-size="9.45" text-anchor="middle" font-weight="bold" fill="#111" stroke="#111" stroke-width="0.22">proliferation (%)</text>
<line x1="252.3" y1="179.3" x2="252.3" y2="184.3" stroke="#111" stroke-width="1.30" stroke-linecap="butt"/>
<text transform="translate(252.3 194.9) rotate(0.05) scale(1.000 1.060)" font-size="9.70" text-anchor="middle" font-weight="bold" fill="#111" stroke="#111" stroke-width="0.22">PBS</text>
<circle cx="236.1" cy="178.8" r="2.05" fill="#fff" stroke="#111" stroke-width="1.20"/>
<circle cx="238.5" cy="177.2" r="2.05" fill="#fff" stroke="#111" stroke-width="1.20"/>
<circle cx="240.9" cy="178.5" r="2.05" fill="#fff" stroke="#111" stroke-width="1.20"/>
<circle cx="249.9" cy="178.9" r="2.05" fill="#fff" stroke="#111" stroke-width="1.20"/>
<circle cx="252.3" cy="178.6" r="2.05" fill="#fff" stroke="#111" stroke-width="1.20"/>
<circle cx="254.7" cy="177.2" r="2.05" fill="#fff" stroke="#111" stroke-width="1.20"/>
<circle cx="263.8" cy="178.5" r="2.05" fill="#fff" stroke="#111" stroke-width="1.20"/>
<circle cx="266.2" cy="177.0" r="2.05" fill="#fff" stroke="#111" stroke-width="1.20"/>
<circle cx="268.6" cy="177.5" r="2.05" fill="#fff" stroke="#111" stroke-width="1.20"/>
<line x1="302.3" y1="179.3" x2="302.3" y2="184.3" stroke="#111" stroke-width="1.30" stroke-linecap="butt"/>
<text transform="translate(302.3 194.9) rotate(0.05) scale(1.000 1.060)" font-size="9.70" text-anchor="middle" font-weight="bold" fill="#111" stroke="#111" stroke-width="0.22">2.5</text>
<rect x="284.6" y="151.3" width="7.8" height="28.0" fill="#ffffff" stroke="#111" stroke-width="1.30"/>
<line x1="288.4" y1="150.4" x2="288.4" y2="151.3" stroke="#111" stroke-width="0.90" stroke-linecap="butt"/>
<circle cx="286.1" cy="152.2" r="2.05" fill="#fff" stroke="#111" stroke-width="1.20"/>
<circle cx="288.4" cy="150.4" r="2.05" fill="#fff" stroke="#111" stroke-width="1.20"/>
<circle cx="290.8" cy="151.4" r="2.05" fill="#fff" stroke="#111" stroke-width="1.20"/>
<rect x="298.4" y="168.2" width="7.8" height="11.1" fill="#9fa1a5" stroke="#111" stroke-width="1.30"/>
<line x1="302.3" y1="167.1" x2="302.3" y2="168.2" stroke="#111" stroke-width="0.90" stroke-linecap="butt"/>
<circle cx="300.0" cy="169.1" r="2.05" fill="#fff" stroke="#111" stroke-width="1.20"/>
<circle cx="302.3" cy="167.1" r="2.05" fill="#fff" stroke="#111" stroke-width="1.20"/>
<circle cx="304.6" cy="168.4" r="2.05" fill="#fff" stroke="#111" stroke-width="1.20"/>
<rect x="312.3" y="150.4" width="7.8" height="28.9" fill="#8086c9" stroke="#111" stroke-width="1.30"/>
<line x1="316.2" y1="149.6" x2="316.2" y2="150.4" stroke="#111" stroke-width="0.90" stroke-linecap="butt"/>
<circle cx="314.0" cy="149.6" r="2.05" fill="#fff" stroke="#111" stroke-width="1.20"/>
<circle cx="318.4" cy="149.6" r="2.05" fill="#fff" stroke="#111" stroke-width="1.20"/>
<circle cx="316.2" cy="152.7" r="2.05" fill="#fff" stroke="#111" stroke-width="1.20"/>
<line x1="352.3" y1="179.3" x2="352.3" y2="184.3" stroke="#111" stroke-width="1.30" stroke-linecap="butt"/>
<text transform="translate(352.3 194.9) rotate(0.05) scale(1.000 1.060)" font-size="9.70" text-anchor="middle" font-weight="bold" fill="#111" stroke="#111" stroke-width="0.22">10</text>
<rect x="334.6" y="115.5" width="7.8" height="63.8" fill="#ffffff" stroke="#111" stroke-width="1.30"/>
<line x1="338.4" y1="113.9" x2="338.4" y2="115.5" stroke="#111" stroke-width="0.90" stroke-linecap="butt"/>
<circle cx="336.1" cy="113.9" r="2.05" fill="#fff" stroke="#111" stroke-width="1.20"/>
<circle cx="340.8" cy="116.0" r="2.05" fill="#fff" stroke="#111" stroke-width="1.20"/>
<circle cx="338.4" cy="119.4" r="2.05" fill="#fff" stroke="#111" stroke-width="1.20"/>
<rect x="348.4" y="157.8" width="7.8" height="21.5" fill="#9fa1a5" stroke="#111" stroke-width="1.30"/>
<line x1="352.3" y1="154.3" x2="352.3" y2="157.8" stroke="#111" stroke-width="0.90" stroke-linecap="butt"/>
<circle cx="349.9" cy="156.4" r="2.05" fill="#fff" stroke="#111" stroke-width="1.20"/>
<circle cx="352.3" cy="154.3" r="2.05" fill="#fff" stroke="#111" stroke-width="1.20"/>
<circle cx="354.7" cy="156.4" r="2.05" fill="#fff" stroke="#111" stroke-width="1.20"/>
<rect x="362.3" y="115.5" width="7.8" height="63.8" fill="#8086c9" stroke="#111" stroke-width="1.30"/>
<line x1="366.2" y1="110.3" x2="366.2" y2="115.5" stroke="#111" stroke-width="0.90" stroke-linecap="butt"/>
<circle cx="366.2" cy="110.3" r="2.05" fill="#fff" stroke="#111" stroke-width="1.20"/>
<circle cx="364.8" cy="116.3" r="2.05" fill="#fff" stroke="#111" stroke-width="1.20"/>
<circle cx="368.2" cy="119.9" r="2.05" fill="#fff" stroke="#111" stroke-width="1.20"/>
<line x1="402.3" y1="179.3" x2="402.3" y2="184.3" stroke="#111" stroke-width="1.30" stroke-linecap="butt"/>
<text transform="translate(402.3 194.9) rotate(0.05) scale(1.000 1.060)" font-size="9.70" text-anchor="middle" font-weight="bold" fill="#111" stroke="#111" stroke-width="0.22">20</text>
<rect x="384.6" y="105.7" width="7.8" height="73.6" fill="#ffffff" stroke="#111" stroke-width="1.30"/>
<line x1="388.4" y1="97.5" x2="388.4" y2="105.7" stroke="#111" stroke-width="0.90" stroke-linecap="butt"/>
<circle cx="388.4" cy="97.5" r="2.05" fill="#fff" stroke="#111" stroke-width="1.20"/>
<circle cx="388.4" cy="106.5" r="2.05" fill="#fff" stroke="#111" stroke-width="1.20"/>
<circle cx="388.4" cy="112.4" r="2.05" fill="#fff" stroke="#111" stroke-width="1.20"/>
<rect x="398.4" y="153.3" width="7.8" height="26.0" fill="#9fa1a5" stroke="#111" stroke-width="1.30"/>
<line x1="402.3" y1="147.5" x2="402.3" y2="153.3" stroke="#111" stroke-width="0.90" stroke-linecap="butt"/>
<circle cx="402.3" cy="147.5" r="2.05" fill="#fff" stroke="#111" stroke-width="1.20"/>
<circle cx="400.1" cy="153.5" r="2.05" fill="#fff" stroke="#111" stroke-width="1.20"/>
<circle cx="404.7" cy="152.3" r="2.05" fill="#fff" stroke="#111" stroke-width="1.20"/>
<rect x="412.3" y="109.6" width="7.8" height="69.7" fill="#8086c9" stroke="#111" stroke-width="1.30"/>
<line x1="416.2" y1="108.2" x2="416.2" y2="109.6" stroke="#111" stroke-width="0.90" stroke-linecap="butt"/>
<circle cx="413.8" cy="108.2" r="2.05" fill="#fff" stroke="#111" stroke-width="1.20"/>
<circle cx="416.2" cy="109.0" r="2.05" fill="#fff" stroke="#111" stroke-width="1.20"/>
<circle cx="418.6" cy="108.9" r="2.05" fill="#fff" stroke="#111" stroke-width="1.20"/>
<text transform="translate(239.6 194.9) rotate(0.05) scale(1.000 1.060)" font-size="9.70" text-anchor="end" font-weight="bold" fill="#111" stroke="#111" stroke-width="0.22">Concentration (μM)</text>
<line x1="284.0" y1="143.0" x2="303.5" y2="143.0" stroke="#111" stroke-width="1.35" stroke-linecap="butt"/>
<text transform="translate(297.2 141.4) rotate(-90) scale(1.000 1.170)" font-size="9.70" text-anchor="start" font-weight="bold" fill="#111" stroke="#111" stroke-width="0.22"><tspan font-style="italic">P</tspan>=0.0001</text>
<line x1="300.5" y1="137.5" x2="320.5" y2="137.5" stroke="#111" stroke-width="1.35" stroke-linecap="butt"/>
<text transform="translate(314.0 135.9) rotate(-90) scale(1.000 1.170)" font-size="9.70" text-anchor="start" font-weight="bold" fill="#111" stroke="#111" stroke-width="0.22"><tspan font-style="italic">P</tspan>=0.0058</text>
<line x1="335.0" y1="106.3" x2="354.5" y2="106.3" stroke="#111" stroke-width="1.35" stroke-linecap="butt"/>
<text transform="translate(347.5 104.4) rotate(-90) scale(1.000 1.170)" font-size="9.70" text-anchor="start" font-weight="bold" fill="#111" stroke="#111" stroke-width="0.22"><tspan font-style="italic">P</tspan>=0.0008</text>
<line x1="351.0" y1="100.8" x2="370.8" y2="100.8" stroke="#111" stroke-width="1.35" stroke-linecap="butt"/>
<text transform="translate(364.0 98.9) rotate(-90) scale(1.000 1.170)" font-size="9.70" text-anchor="start" font-weight="bold" fill="#111" stroke="#111" stroke-width="0.22"><tspan font-style="italic">P</tspan>=0.0060</text>
<line x1="384.5" y1="89.5" x2="404.0" y2="89.5" stroke="#111" stroke-width="1.35" stroke-linecap="butt"/>
<text transform="translate(397.5 87.4) rotate(-90) scale(1.000 1.170)" font-size="9.70" text-anchor="start" font-weight="bold" fill="#111" stroke="#111" stroke-width="0.22"><tspan font-style="italic">P</tspan>=0.0105</text>
<line x1="401.0" y1="100.5" x2="420.5" y2="100.5" stroke="#111" stroke-width="1.35" stroke-linecap="butt"/>
<text transform="translate(414.0 98.4) rotate(-90) scale(1.000 1.170)" font-size="9.70" text-anchor="start" font-weight="bold" fill="#111" stroke="#111" stroke-width="0.22"><tspan font-style="italic">P</tspan>=0.0020</text>
<text x="440.4" y="13.2" font-size="16.9" font-weight="normal" fill="#111" stroke="#111" stroke-width="1.0">C</text>
<text transform="translate(582.0 20.6) rotate(0.05) scale(1.000 1.060)" font-size="9.70" text-anchor="middle" font-weight="bold" fill="#111" stroke="#111" stroke-width="0.22">SW620 (+ OXA)</text>
<line x1="484.2" y1="49.8" x2="484.2" y2="178.6" stroke="#111" stroke-width="1.45" stroke-linecap="butt"/>
<line x1="479.2" y1="179.3" x2="484.2" y2="179.3" stroke="#111" stroke-width="1.45" stroke-linecap="butt"/>
<text transform="translate(476.7 183.0) rotate(0.05) scale(1.000 1.060)" font-size="9.70" text-anchor="end" font-weight="bold" fill="#111" stroke="#111" stroke-width="0.22">0.0</text>
<line x1="479.2" y1="153.3" x2="484.2" y2="153.3" stroke="#111" stroke-width="1.45" stroke-linecap="butt"/>
<text transform="translate(476.7 157.0) rotate(0.05) scale(1.000 1.060)" font-size="9.70" text-anchor="end" font-weight="bold" fill="#111" stroke="#111" stroke-width="0.22">0.2</text>
<line x1="479.2" y1="127.2" x2="484.2" y2="127.2" stroke="#111" stroke-width="1.45" stroke-linecap="butt"/>
<text transform="translate(476.7 130.9) rotate(0.05) scale(1.000 1.060)" font-size="9.70" text-anchor="end" font-weight="bold" fill="#111" stroke="#111" stroke-width="0.22">0.4</text>
<line x1="479.2" y1="101.2" x2="484.2" y2="101.2" stroke="#111" stroke-width="1.45" stroke-linecap="butt"/>
<text transform="translate(476.7 104.9) rotate(0.05) scale(1.000 1.060)" font-size="9.70" text-anchor="end" font-weight="bold" fill="#111" stroke="#111" stroke-width="0.22">0.6</text>
<line x1="479.2" y1="75.1" x2="484.2" y2="75.1" stroke="#111" stroke-width="1.45" stroke-linecap="butt"/>
<text transform="translate(476.7 78.8) rotate(0.05) scale(1.000 1.060)" font-size="9.70" text-anchor="end" font-weight="bold" fill="#111" stroke="#111" stroke-width="0.22">0.8</text>
<line x1="479.2" y1="49.1" x2="484.2" y2="49.1" stroke="#111" stroke-width="1.45" stroke-linecap="butt"/>
<text transform="translate(476.7 52.8) rotate(0.05) scale(1.000 1.060)" font-size="9.70" text-anchor="end" font-weight="bold" fill="#111" stroke="#111" stroke-width="0.22">1.0</text>
<line x1="483.6" y1="179.3" x2="681.0" y2="179.3" stroke="#111" stroke-width="1.30" stroke-linecap="butt"/>
<rect x="489.0" y="37.5" width="9.0" height="7.0" fill="#ffffff" stroke="#111" stroke-width="1.35"/>
<text transform="translate(506.7 44.7) rotate(0.05) scale(1.000 1.060)" font-size="9.70" text-anchor="start" font-weight="bold" fill="#111" stroke="#111" stroke-width="0.22">shNT</text>
<rect x="489.0" y="49.3" width="9.0" height="7.0" fill="#9fa1a5" stroke="#111" stroke-width="1.35"/>
<text transform="translate(506.7 56.5) rotate(0.05) scale(1.000 1.060)" font-size="9.70" text-anchor="start" font-weight="bold" fill="#111" stroke="#111" stroke-width="0.22">shSNAP23</text>
<rect x="489.0" y="60.8" width="9.0" height="7.0" fill="#8086c9" stroke="#111" stroke-width="1.35"/>
<text transform="translate(506.7 68.0) rotate(0.05) scale(1.000 1.060)" font-size="9.70" text-anchor="start" font-weight="bold" fill="#111" stroke="#111" stroke-width="0.22">sh+rSNAP23</text>
<text transform="translate(445.5 114.5) rotate(-90) scale(1.000 1.060)" font-size="9.45" text-anchor="middle" font-weight="bold" fill="#111" stroke="#111" stroke-width="0.22">Inhibition rate of</text>
<text transform="translate(457.0 114.5) rotate(-90) scale(1.000 1.060)" font-size="9.45" text-anchor="middle" font-weight="bold" fill="#111" stroke="#111" stroke-width="0.22">proliferation (%)</text>
<line x1="514.4" y1="179.3" x2="514.4" y2="184.3" stroke="#111" stroke-width="1.30" stroke-linecap="butt"/>
<text transform="translate(514.4 194.9) rotate(0.05) scale(1.000 1.060)" font-size="9.70" text-anchor="middle" font-weight="bold" fill="#111" stroke="#111" stroke-width="0.22">24h</text>
<rect x="490.1" y="158.1" width="11.4" height="21.2" fill="#ffffff" stroke="#111" stroke-width="1.30"/>
<line x1="495.8" y1="156.5" x2="495.8" y2="158.1" stroke="#111" stroke-width="0.90" stroke-linecap="butt"/>
<circle cx="491.8" cy="158.5" r="2.05" fill="#fff" stroke="#111" stroke-width="1.20"/>
<circle cx="495.8" cy="156.5" r="2.05" fill="#fff" stroke="#111" stroke-width="1.20"/>
<circle cx="499.8" cy="157.4" r="2.05" fill="#fff" stroke="#111" stroke-width="1.20"/>
<rect x="508.7" y="167.6" width="11.4" height="11.7" fill="#9fa1a5" stroke="#111" stroke-width="1.30"/>
<line x1="514.4" y1="165.0" x2="514.4" y2="167.6" stroke="#111" stroke-width="0.90" stroke-linecap="butt"/>
<circle cx="510.4" cy="168.2" r="2.05" fill="#fff" stroke="#111" stroke-width="1.20"/>
<circle cx="514.4" cy="165.0" r="2.05" fill="#fff" stroke="#111" stroke-width="1.20"/>
<circle cx="518.4" cy="166.9" r="2.05" fill="#fff" stroke="#111" stroke-width="1.20"/>
<rect x="527.3" y="157.8" width="11.4" height="21.5" fill="#8086c9" stroke="#111" stroke-width="1.30"/>
<line x1="533.0" y1="155.9" x2="533.0" y2="157.8" stroke="#111" stroke-width="0.90" stroke-linecap="butt"/>
<circle cx="529.0" cy="157.8" r="2.05" fill="#fff" stroke="#111" stroke-width="1.20"/>
<circle cx="533.0" cy="155.9" r="2.05" fill="#fff" stroke="#111" stroke-width="1.20"/>
<circle cx="537.0" cy="156.9" r="2.05" fill="#fff" stroke="#111" stroke-width="1.20"/>
<line x1="581.6" y1="179.3" x2="581.6" y2="184.3" stroke="#111" stroke-width="1.30" stroke-linecap="butt"/>
<text transform="translate(581.6 194.9) rotate(0.05) scale(1.000 1.060)" font-size="9.70" text-anchor="middle" font-weight="bold" fill="#111" stroke="#111" stroke-width="0.22">48h</text>
<rect x="557.3" y="133.3" width="11.4" height="46.0" fill="#ffffff" stroke="#111" stroke-width="1.30"/>
<line x1="563.0" y1="131.4" x2="563.0" y2="133.3" stroke="#111" stroke-width="0.90" stroke-linecap="butt"/>
<circle cx="559.0" cy="131.8" r="2.05" fill="#fff" stroke="#111" stroke-width="1.20"/>
<circle cx="563.0" cy="138.9" r="2.05" fill="#fff" stroke="#111" stroke-width="1.20"/>
<circle cx="567.0" cy="131.4" r="2.05" fill="#fff" stroke="#111" stroke-width="1.20"/>
<rect x="575.9" y="162.0" width="11.4" height="17.3" fill="#9fa1a5" stroke="#111" stroke-width="1.30"/>
<line x1="581.6" y1="157.2" x2="581.6" y2="162.0" stroke="#111" stroke-width="0.90" stroke-linecap="butt"/>
<circle cx="577.6" cy="163.0" r="2.05" fill="#fff" stroke="#111" stroke-width="1.20"/>
<circle cx="581.6" cy="157.2" r="2.05" fill="#fff" stroke="#111" stroke-width="1.20"/>
<circle cx="585.6" cy="161.7" r="2.05" fill="#fff" stroke="#111" stroke-width="1.20"/>
<rect x="594.5" y="129.6" width="11.4" height="49.7" fill="#8086c9" stroke="#111" stroke-width="1.30"/>
<line x1="600.2" y1="127.9" x2="600.2" y2="129.6" stroke="#111" stroke-width="0.90" stroke-linecap="butt"/>
<circle cx="596.2" cy="130.5" r="2.05" fill="#fff" stroke="#111" stroke-width="1.20"/>
<circle cx="600.2" cy="127.9" r="2.05" fill="#fff" stroke="#111" stroke-width="1.20"/>
<circle cx="604.2" cy="129.2" r="2.05" fill="#fff" stroke="#111" stroke-width="1.20"/>
<line x1="648.8" y1="179.3" x2="648.8" y2="184.3" stroke="#111" stroke-width="1.30" stroke-linecap="butt"/>
<text transform="translate(648.8 194.9) rotate(0.05) scale(1.000 1.060)" font-size="9.70" text-anchor="middle" font-weight="bold" fill="#111" stroke="#111" stroke-width="0.22">72h</text>
<rect x="624.5" y="101.8" width="11.4" height="77.5" fill="#ffffff" stroke="#111" stroke-width="1.30"/>
<line x1="630.2" y1="96.0" x2="630.2" y2="101.8" stroke="#111" stroke-width="0.90" stroke-linecap="butt"/>
<circle cx="626.2" cy="102.5" r="2.05" fill="#fff" stroke="#111" stroke-width="1.20"/>
<circle cx="630.2" cy="96.0" r="2.05" fill="#fff" stroke="#111" stroke-width="1.20"/>
<circle cx="634.2" cy="101.2" r="2.05" fill="#fff" stroke="#111" stroke-width="1.20"/>
<rect x="643.1" y="150.3" width="11.4" height="29.0" fill="#9fa1a5" stroke="#111" stroke-width="1.30"/>
<line x1="648.8" y1="145.2" x2="648.8" y2="150.3" stroke="#111" stroke-width="0.90" stroke-linecap="butt"/>
<circle cx="648.8" cy="145.2" r="2.05" fill="#fff" stroke="#111" stroke-width="1.20"/>
<circle cx="648.8" cy="149.4" r="2.05" fill="#fff" stroke="#111" stroke-width="1.20"/>
<circle cx="648.8" cy="157.8" r="2.05" fill="#fff" stroke="#111" stroke-width="1.20"/>
<rect x="661.7" y="115.1" width="11.4" height="64.2" fill="#8086c9" stroke="#111" stroke-width="1.30"/>
<line x1="667.4" y1="106.4" x2="667.4" y2="115.1" stroke="#111" stroke-width="0.90" stroke-linecap="butt"/>
<circle cx="667.4" cy="106.4" r="2.05" fill="#fff" stroke="#111" stroke-width="1.20"/>
<circle cx="667.4" cy="116.2" r="2.05" fill="#fff" stroke="#111" stroke-width="1.20"/>
<circle cx="667.4" cy="122.7" r="2.05" fill="#fff" stroke="#111" stroke-width="1.20"/>
<text transform="translate(495.5 194.9) rotate(0.05) scale(1.000 1.060)" font-size="9.70" text-anchor="end" font-weight="bold" fill="#111" stroke="#111" stroke-width="0.22">Time</text>
<line x1="489.7" y1="145.4" x2="518.8" y2="145.4" stroke="#111" stroke-width="1.35" stroke-linecap="butt"/>
<text transform="translate(509.0 143.4) rotate(-90) scale(1.000 1.170)" font-size="9.70" text-anchor="start" font-weight="bold" fill="#111" stroke="#111" stroke-width="0.22"><tspan font-style="italic">P</tspan>=0.0141</text>
<line x1="510.6" y1="135.9" x2="539.3" y2="135.9" stroke="#111" stroke-width="1.35" stroke-linecap="butt"/>
<text transform="translate(528.8 133.9) rotate(-90) scale(1.000 1.170)" font-size="9.70" text-anchor="start" font-weight="bold" fill="#111" stroke="#111" stroke-width="0.22"><tspan font-style="italic">P</tspan>=0.0084</text>
<line x1="556.8" y1="122.2" x2="585.5" y2="122.2" stroke="#111" stroke-width="1.35" stroke-linecap="butt"/>
<text transform="translate(575.6 120.0) rotate(-90) scale(1.000 1.170)" font-size="9.70" text-anchor="start" font-weight="bold" fill="#111" stroke="#111" stroke-width="0.22"><tspan font-style="italic">P</tspan>=0.0041</text>
<line x1="577.0" y1="114.5" x2="606.2" y2="114.5" stroke="#111" stroke-width="1.35" stroke-linecap="butt"/>
<text transform="translate(595.4 112.0) rotate(-90) scale(1.000 1.170)" font-size="9.70" text-anchor="start" font-weight="bold" fill="#111" stroke="#111" stroke-width="0.22"><tspan font-style="italic">P</tspan>=0.0011</text>
<line x1="624.0" y1="89.8" x2="652.8" y2="89.8" stroke="#111" stroke-width="1.35" stroke-linecap="butt"/>
<text transform="translate(643.4 87.6) rotate(-90) scale(1.000 1.170)" font-size="9.70" text-anchor="start" font-weight="bold" fill="#111" stroke="#111" stroke-width="0.22"><tspan font-style="italic">P</tspan>=0.0019</text>
<line x1="645.5" y1="100.6" x2="674.2" y2="100.6" stroke="#111" stroke-width="1.35" stroke-linecap="butt"/>
<text transform="translate(664.4 98.2) rotate(-90) scale(1.000 1.170)" font-size="9.70" text-anchor="start" font-weight="bold" fill="#111" stroke="#111" stroke-width="0.22"><tspan font-style="italic">P</tspan>=0.0111</text>
<text x="0.6" y="246.0" font-size="16.9" font-weight="normal" fill="#111" stroke="#111" stroke-width="1.0">D</text>
<text transform="translate(79.8 256.0) rotate(-45) scale(1.000 1.060)" font-size="9.70" text-anchor="start" font-weight="bold" fill="#111" stroke="#111" stroke-width="0.22">shNT</text>
<text transform="translate(101.8 256.0) rotate(-45) scale(1.000 1.060)" font-size="9.70" text-anchor="start" font-weight="bold" fill="#111" stroke="#111" stroke-width="0.22">shSNAP23</text>
<text transform="translate(124.0 256.0) rotate(-45) scale(1.000 1.060)" font-size="9.70" text-anchor="start" font-weight="bold" fill="#111" stroke="#111" stroke-width="0.22">sh+rSNAP23</text>
<text transform="translate(150.8 256.0) rotate(-45) scale(1.000 1.060)" font-size="9.70" text-anchor="start" font-weight="bold" fill="#111" stroke="#111" stroke-width="0.22">shNT</text>
<text transform="translate(172.8 256.0) rotate(-45) scale(1.000 1.060)" font-size="9.70" text-anchor="start" font-weight="bold" fill="#111" stroke="#111" stroke-width="0.22">shSNAP23</text>
<text transform="translate(193.5 256.0) rotate(-45) scale(1.000 1.060)" font-size="9.70" text-anchor="start" font-weight="bold" fill="#111" stroke="#111" stroke-width="0.22">sh+rSNAP23</text>
<line x1="75.4" y1="262.8" x2="132.0" y2="262.8" stroke="#111" stroke-width="1.10" stroke-linecap="butt"/>
<line x1="145.6" y1="262.8" x2="202.2" y2="262.8" stroke="#111" stroke-width="1.10" stroke-linecap="butt"/>
<text transform="translate(7.2 272.0) rotate(0.05) scale(1.000 1.060)" font-size="9.70" text-anchor="start" font-weight="bold" fill="#111" stroke="#111" stroke-width="0.22">OXA</text>
<text transform="translate(80.8 271.5) rotate(0.05) scale(1.000 1.060)" font-size="8.50" text-anchor="middle" font-weight="bold" fill="#111" stroke="#111" stroke-width="0.22">-</text>
<text transform="translate(103.6 271.5) rotate(0.05) scale(1.000 1.060)" font-size="8.50" text-anchor="middle" font-weight="bold" fill="#111" stroke="#111" stroke-width="0.22">-</text>
<text transform="translate(126.2 271.5) rotate(0.05) scale(1.000 1.060)" font-size="8.50" text-anchor="middle" font-weight="bold" fill="#111" stroke="#111" stroke-width="0.22">-</text>
<text transform="translate(151.8 271.5) rotate(0.05) scale(1.000 1.060)" font-size="8.50" text-anchor="middle" font-weight="bold" fill="#111" stroke="#111" stroke-width="0.22">+</text>
<text transform="translate(174.2 271.5) rotate(0.05) scale(1.000 1.060)" font-size="8.50" text-anchor="middle" font-weight="bold" fill="#111" stroke="#111" stroke-width="0.22">+</text>
<text transform="translate(196.0 271.5) rotate(0.05) scale(1.000 1.060)" font-size="8.50" text-anchor="middle" font-weight="bold" fill="#111" stroke="#111" stroke-width="0.22">+</text>
<text transform="translate(7.2 291.2) rotate(0.05) scale(1.000 1.060)" font-size="9.75" text-anchor="start" font-weight="bold" fill="#111" stroke="#111" stroke-width="0.22">p-PARP</text>
<text transform="translate(7.2 302.8) rotate(0.05) scale(1.000 1.060)" font-size="9.75" text-anchor="start" font-weight="bold" fill="#111" stroke="#111" stroke-width="0.22">c-PARP</text>
<text transform="translate(7.2 319.0) rotate(0.05) scale(1.000 1.060)" font-size="9.75" text-anchor="start" font-weight="bold" fill="#111" stroke="#111" stroke-width="0.22">p-Caspase9</text>
<text transform="translate(7.2 342.6) rotate(0.05) scale(1.000 1.060)" font-size="9.75" text-anchor="start" font-weight="bold" fill="#111" stroke="#111" stroke-width="0.22">c-Caspase9</text>
<text transform="translate(7.2 365.4) rotate(0.05) scale(1.000 1.060)" font-size="9.75" text-anchor="start" font-weight="bold" fill="#111" stroke="#111" stroke-width="0.22">p-Caspase3</text>
<text transform="translate(7.2 390.5) rotate(0.05) scale(1.000 1.060)" font-size="9.75" text-anchor="start" font-weight="bold" fill="#111" stroke="#111" stroke-width="0.22">c-Caspase3</text>
<text transform="translate(7.2 414.7) rotate(0.05) scale(1.000 1.060)" font-size="9.75" text-anchor="start" font-weight="bold" fill="#111" stroke="#111" stroke-width="0.22">β-actin</text>
<clipPath id="clipD0"><rect x="66.7" y="282.2" width="143.3" height="21.3"/></clipPath>
<g clip-path="url(#clipD0)">
<rect x="66.7" y="282.2" width="143.3" height="21.3" fill="#ebebeb" stroke="none" stroke-width="0.00"/>
<rect x="71.3" y="289.9" width="19.0" height="2.6" rx="1.3" fill="#0a0a0a" fill-opacity="0.85" filter="url(#b1)" transform="rotate(-3.0 80.8 291.2)"/>
<rect x="95.1" y="289.6" width="17.0" height="2.0" rx="1.0" fill="#0a0a0a" fill-opacity="0.40" filter="url(#b1)"/>
<rect x="117.7" y="289.2" width="17.0" height="2.0" rx="1.0" fill="#0a0a0a" fill-opacity="0.35" filter="url(#b1)"/>
<rect x="142.8" y="287.6" width="18.0" height="2.3" rx="1.1" fill="#0a0a0a" fill-opacity="0.70" filter="url(#b1)" transform="rotate(-2.0 151.8 288.7)"/>
<rect x="164.7" y="287.3" width="19.0" height="3.0" rx="1.5" fill="#0a0a0a" fill-opacity="0.90" filter="url(#b1)"/>
<rect x="187.0" y="288.4" width="18.0" height="2.4" rx="1.2" fill="#0a0a0a" fill-opacity="0.75" filter="url(#b1)"/>
<rect x="141.8" y="293.2" width="20.0" height="4.8" rx="2.4" fill="#0a0a0a" fill-opacity="0.97" filter="url(#b1)" transform="rotate(-2.0 151.8 295.6)"/>
<rect x="164.7" y="293.8" width="19.0" height="4.0" rx="2.0" fill="#0a0a0a" fill-opacity="0.92" filter="url(#b1)"/>
<rect x="186.0" y="293.9" width="20.0" height="5.4" rx="2.7" fill="#0a0a0a" fill-opacity="0.97" filter="url(#b1)"/>
<rect x="72.3" y="296.9" width="17.0" height="2.5" rx="1.2" fill="#0a0a0a" fill-opacity="0.12" filter="url(#b1)"/>
<rect x="95.6" y="297.2" width="16.0" height="2.5" rx="1.2" fill="#0a0a0a" fill-opacity="0.07" filter="url(#b1)"/>
<rect x="118.2" y="297.2" width="16.0" height="2.5" rx="1.2" fill="#0a0a0a" fill-opacity="0.06" filter="url(#b1)"/>
<rect x="72.3" y="284.0" width="17.0" height="4.0" rx="2.0" fill="#0a0a0a" fill-opacity="0.10" filter="url(#b1)"/>
<rect x="95.6" y="284.0" width="16.0" height="4.0" rx="2.0" fill="#0a0a0a" fill-opacity="0.08" filter="url(#b1)"/>
<rect x="118.2" y="284.0" width="16.0" height="4.0" rx="2.0" fill="#0a0a0a" fill-opacity="0.07" filter="url(#b1)"/>
</g>
<rect x="67.4" y="282.8" width="142.0" height="20.0" fill="none" stroke="#1a1a1a" stroke-width="1.30"/>
<clipPath id="clipD1"><rect x="66.7" y="306.3" width="143.3" height="21.1"/></clipPath>
<g clip-path="url(#clipD1)">
<rect x="66.7" y="306.3" width="143.3" height="21.1" fill="#eeeeee" stroke="none" stroke-width="0.00"/>
<rect x="70.8" y="315.1" width="20.0" height="4.4" rx="2.2" fill="#0a0a0a" fill-opacity="0.97" filter="url(#b1)" transform="rotate(2.0 80.8 317.3)"/>
<rect x="94.1" y="316.6" width="19.0" height="3.5" rx="1.8" fill="#0a0a0a" fill-opacity="0.90" filter="url(#b1)" transform="rotate(3.0 103.6 318.4)"/>
<rect x="117.2" y="317.3" width="18.0" height="3.0" rx="1.5" fill="#0a0a0a" fill-opacity="0.80" filter="url(#b1)"/>
<rect x="143.3" y="317.6" width="17.0" height="2.5" rx="1.2" fill="#0a0a0a" fill-opacity="0.60" filter="url(#b1)" transform="rotate(2.0 151.8 318.8)"/>
<rect x="164.7" y="317.5" width="19.0" height="3.6" rx="1.8" fill="#0a0a0a" fill-opacity="0.92" filter="url(#b1)" transform="rotate(2.0 174.2 319.3)"/>
<rect x="188.0" y="318.4" width="16.0" height="2.4" rx="1.2" fill="#0a0a0a" fill-opacity="0.62" filter="url(#b1)" transform="rotate(3.0 196.0 319.6)"/>
</g>
<rect x="67.4" y="306.9" width="142.0" height="19.8" fill="none" stroke="#1a1a1a" stroke-width="1.30"/>
<clipPath id="clipD2"><rect x="66.7" y="330.4" width="143.3" height="21.4"/></clipPath>
<g clip-path="url(#clipD2)">
<rect x="66.7" y="330.4" width="143.3" height="21.4" fill="#e9e9e9" stroke="none" stroke-width="0.00"/>
<rect x="142.8" y="337.6" width="18.0" height="4.2" rx="2.1" fill="#0a0a0a" fill-opacity="0.93" filter="url(#b1)" transform="rotate(-3.0 151.8 339.7)"/>
<rect x="165.7" y="336.7" width="17.0" height="2.6" rx="1.3" fill="#0a0a0a" fill-opacity="0.70" filter="url(#b1)" transform="rotate(-6.0 174.2 338.0)"/>
<rect x="186.5" y="334.5" width="19.0" height="4.2" rx="2.1" fill="#0a0a0a" fill-opacity="0.97" filter="url(#b1)" transform="rotate(-2.0 196.0 336.6)"/>
<rect x="72.3" y="339.5" width="17.0" height="2.0" rx="1.0" fill="#0a0a0a" fill-opacity="0.16" filter="url(#b1)"/>
<rect x="95.6" y="340.0" width="16.0" height="2.0" rx="1.0" fill="#0a0a0a" fill-opacity="0.10" filter="url(#b1)"/>
<rect x="118.2" y="340.0" width="16.0" height="2.0" rx="1.0" fill="#0a0a0a" fill-opacity="0.07" filter="url(#b1)"/>
<rect x="72.3" y="345.4" width="17.0" height="2.2" rx="1.1" fill="#0a0a0a" fill-opacity="0.18" filter="url(#b1)"/>
<rect x="95.6" y="345.7" width="16.0" height="2.2" rx="1.1" fill="#0a0a0a" fill-opacity="0.12" filter="url(#b1)"/>
<rect x="118.2" y="345.8" width="16.0" height="2.0" rx="1.0" fill="#0a0a0a" fill-opacity="0.08" filter="url(#b1)"/>
<rect x="143.3" y="344.5" width="17.0" height="2.0" rx="1.0" fill="#0a0a0a" fill-opacity="0.15" filter="url(#b1)"/>
<rect x="165.7" y="342.5" width="17.0" height="2.0" rx="1.0" fill="#0a0a0a" fill-opacity="0.22" filter="url(#b1)"/>
<rect x="187.5" y="341.5" width="17.0" height="2.0" rx="1.0" fill="#0a0a0a" fill-opacity="0.18" filter="url(#b1)"/>
<rect x="165.7" y="346.5" width="17.0" height="2.0" rx="1.0" fill="#0a0a0a" fill-opacity="0.15" filter="url(#b1)"/>
<rect x="187.5" y="346.0" width="17.0" height="2.0" rx="1.0" fill="#0a0a0a" fill-opacity="0.12" filter="url(#b1)"/>
</g>
<rect x="67.4" y="331.0" width="142.0" height="20.1" fill="none" stroke="#1a1a1a" stroke-width="1.30"/>
<clipPath id="clipD3"><rect x="66.7" y="354.5" width="143.3" height="21.1"/></clipPath>
<g clip-path="url(#clipD3)">
<rect x="66.7" y="354.5" width="143.3" height="21.1" fill="#eeeeee" stroke="none" stroke-width="0.00"/>
<rect x="71.3" y="362.6" width="19.0" height="3.5" rx="1.8" fill="#0a0a0a" fill-opacity="0.93" filter="url(#b1)"/>
<rect x="94.1" y="362.8" width="19.0" height="3.4" rx="1.7" fill="#0a0a0a" fill-opacity="0.92" filter="url(#b1)"/>
<rect x="116.7" y="362.4" width="19.0" height="3.5" rx="1.8" fill="#0a0a0a" fill-opacity="0.93" filter="url(#b1)"/>
<rect x="143.3" y="363.5" width="17.0" height="2.0" rx="1.0" fill="#0a0a0a" fill-opacity="0.50" filter="url(#b1)"/>
<rect x="164.7" y="363.4" width="19.0" height="3.6" rx="1.8" fill="#0a0a0a" fill-opacity="0.93" filter="url(#b1)" transform="rotate(2.0 174.2 365.2)"/>
<rect x="187.5" y="364.5" width="17.0" height="2.6" rx="1.3" fill="#0a0a0a" fill-opacity="0.72" filter="url(#b1)" transform="rotate(3.0 196.0 365.8)"/>
</g>
<rect x="67.4" y="355.1" width="142.0" height="19.8" fill="none" stroke="#1a1a1a" stroke-width="1.30"/>
<clipPath id="clipD4"><rect x="66.7" y="378.3" width="143.3" height="21.2"/></clipPath>
<g clip-path="url(#clipD4)">
<rect x="66.7" y="378.3" width="143.3" height="21.2" fill="#ececec" stroke="none" stroke-width="0.00"/>
<rect x="142.3" y="388.3" width="19.0" height="4.2" rx="2.1" fill="#0a0a0a" fill-opacity="0.96" filter="url(#b1)"/>
<rect x="166.2" y="388.7" width="16.0" height="2.6" rx="1.3" fill="#0a0a0a" fill-opacity="0.32" filter="url(#b1)"/>
<rect x="187.0" y="387.0" width="18.0" height="4.0" rx="2.0" fill="#0a0a0a" fill-opacity="0.92" filter="url(#b1)"/>
<rect x="72.3" y="389.8" width="17.0" height="4.5" rx="2.2" fill="#0a0a0a" fill-opacity="0.07" filter="url(#b1)"/>
<rect x="95.1" y="389.8" width="17.0" height="4.5" rx="2.2" fill="#0a0a0a" fill-opacity="0.07" filter="url(#b1)"/>
<rect x="117.7" y="389.5" width="17.0" height="4.0" rx="2.0" fill="#0a0a0a" fill-opacity="0.06" filter="url(#b1)"/>
<rect x="72.8" y="381.0" width="16.0" height="2.0" rx="1.0" fill="#0a0a0a" fill-opacity="0.06" filter="url(#b1)"/>
<rect x="95.6" y="380.5" width="16.0" height="2.0" rx="1.0" fill="#0a0a0a" fill-opacity="0.06" filter="url(#b1)"/>
<rect x="118.2" y="380.0" width="16.0" height="2.0" rx="1.0" fill="#0a0a0a" fill-opacity="0.06" filter="url(#b1)"/>
</g>
<rect x="67.4" y="378.9" width="142.0" height="19.9" fill="none" stroke="#1a1a1a" stroke-width="1.30"/>
<clipPath id="clipD5"><rect x="66.7" y="402.3" width="143.3" height="21.6"/></clipPath>
<g clip-path="url(#clipD5)">
<rect x="66.7" y="402.3" width="143.3" height="21.6" fill="#eeeeee" stroke="none" stroke-width="0.00"/>
<rect x="70.3" y="413.0" width="21.0" height="4.6" rx="2.3" fill="#0a0a0a" fill-opacity="0.98" filter="url(#b1)" transform="rotate(-2.0 80.8 415.3)"/>
<rect x="93.1" y="412.2" width="21.0" height="4.4" rx="2.2" fill="#0a0a0a" fill-opacity="0.98" filter="url(#b1)" transform="rotate(-3.0 103.6 414.4)"/>
<rect x="115.7" y="411.3" width="21.0" height="4.4" rx="2.2" fill="#0a0a0a" fill-opacity="0.98" filter="url(#b1)" transform="rotate(-2.0 126.2 413.5)"/>
<rect x="141.3" y="410.6" width="21.0" height="4.4" rx="2.2" fill="#0a0a0a" fill-opacity="0.98" filter="url(#b1)" transform="rotate(-1.0 151.8 412.8)"/>
<rect x="163.7" y="410.1" width="21.0" height="4.0" rx="2.0" fill="#0a0a0a" fill-opacity="0.98" filter="url(#b1)" transform="rotate(-2.0 174.2 412.1)"/>
<rect x="186.0" y="409.6" width="20.0" height="4.2" rx="2.1" fill="#0a0a0a" fill-opacity="0.98" filter="url(#b1)"/>
</g>
<rect x="67.4" y="402.9" width="142.0" height="20.3" fill="none" stroke="#1a1a1a" stroke-width="1.30"/>
<text transform="translate(139.4 435.4) rotate(0.05) scale(1.000 1.060)" font-size="9.70" text-anchor="middle" font-weight="bold" fill="#111" stroke="#111" stroke-width="0.22">SW620</text>
<text x="259.6" y="244.1" font-size="16.9" font-weight="normal" fill="#111" stroke="#111" stroke-width="1.0">E</text>
<text transform="translate(371.5 247.0) rotate(0.05) scale(1.000 1.060)" font-size="9.90" text-anchor="middle" font-weight="bold" fill="#111" stroke="#111" stroke-width="0.22">HT29 s.c. CDX model</text>
<line x1="270.1" y1="276.6" x2="270.1" y2="407.4" stroke="#111" stroke-width="1.45" stroke-linecap="butt"/>
<line x1="265.1" y1="408.1" x2="270.1" y2="408.1" stroke="#111" stroke-width="1.45" stroke-linecap="butt"/>
<text transform="translate(262.6 411.8) rotate(0.05) scale(1.000 1.060)" font-size="9.70" text-anchor="end" font-weight="bold" fill="#111" stroke="#111" stroke-width="0.22">0</text>
<line x1="265.1" y1="381.7" x2="270.1" y2="381.7" stroke="#111" stroke-width="1.45" stroke-linecap="butt"/>
<text transform="translate(262.6 385.4) rotate(0.05) scale(1.000 1.060)" font-size="9.70" text-anchor="end" font-weight="bold" fill="#111" stroke="#111" stroke-width="0.22">200</text>
<line x1="265.1" y1="355.2" x2="270.1" y2="355.2" stroke="#111" stroke-width="1.45" stroke-linecap="butt"/>
<text transform="translate(262.6 358.9) rotate(0.05) scale(1.000 1.060)" font-size="9.70" text-anchor="end" font-weight="bold" fill="#111" stroke="#111" stroke-width="0.22">400</text>
<line x1="265.1" y1="328.8" x2="270.1" y2="328.8" stroke="#111" stroke-width="1.45" stroke-linecap="butt"/>
<text transform="translate(262.6 332.5) rotate(0.05) scale(1.000 1.060)" font-size="9.70" text-anchor="end" font-weight="bold" fill="#111" stroke="#111" stroke-width="0.22">600</text>
<line x1="265.1" y1="302.3" x2="270.1" y2="302.3" stroke="#111" stroke-width="1.45" stroke-linecap="butt"/>
<text transform="translate(262.6 306.0) rotate(0.05) scale(1.000 1.060)" font-size="9.70" text-anchor="end" font-weight="bold" fill="#111" stroke="#111" stroke-width="0.22">800</text>
<line x1="265.1" y1="275.9" x2="270.1" y2="275.9" stroke="#111" stroke-width="1.45" stroke-linecap="butt"/>
<text transform="translate(262.6 279.6) rotate(0.05) scale(1.000 1.060)" font-size="9.70" text-anchor="end" font-weight="bold" fill="#111" stroke="#111" stroke-width="0.22">1000</text>
<line x1="269.5" y1="408.1" x2="468.9" y2="408.1" stroke="#111" stroke-width="1.30" stroke-linecap="butt"/>
<line x1="270.1" y1="408.1" x2="270.1" y2="413.1" stroke="#111" stroke-width="1.30" stroke-linecap="butt"/>
<text transform="translate(270.1 425.0) rotate(0.05) scale(1.000 1.060)" font-size="9.70" text-anchor="middle" font-weight="bold" fill="#111" stroke="#111" stroke-width="0.22">0</text>
<line x1="292.1" y1="408.1" x2="292.1" y2="413.1" stroke="#111" stroke-width="1.30" stroke-linecap="butt"/>
<text transform="translate(292.1 425.0) rotate(0.05) scale(1.000 1.060)" font-size="9.70" text-anchor="middle" font-weight="bold" fill="#111" stroke="#111" stroke-width="0.22">3</text>
<line x1="314.1" y1="408.1" x2="314.1" y2="413.1" stroke="#111" stroke-width="1.30" stroke-linecap="butt"/>
<text transform="translate(314.1 425.0) rotate(0.05) scale(1.000 1.060)" font-size="9.70" text-anchor="middle" font-weight="bold" fill="#111" stroke="#111" stroke-width="0.22">6</text>
<line x1="336.2" y1="408.1" x2="336.2" y2="413.1" stroke="#111" stroke-width="1.30" stroke-linecap="butt"/>
<text transform="translate(336.2 425.0) rotate(0.05) scale(1.000 1.060)" font-size="9.70" text-anchor="middle" font-weight="bold" fill="#111" stroke="#111" stroke-width="0.22">9</text>
<line x1="358.2" y1="408.1" x2="358.2" y2="413.1" stroke="#111" stroke-width="1.30" stroke-linecap="butt"/>
<text transform="translate(358.2 425.0) rotate(0.05) scale(1.000 1.060)" font-size="9.70" text-anchor="middle" font-weight="bold" fill="#111" stroke="#111" stroke-width="0.22">12</text>
<line x1="380.2" y1="408.1" x2="380.2" y2="413.1" stroke="#111" stroke-width="1.30" stroke-linecap="butt"/>
<text transform="translate(380.2 425.0) rotate(0.05) scale(1.000 1.060)" font-size="9.70" text-anchor="middle" font-weight="bold" fill="#111" stroke="#111" stroke-width="0.22">15</text>
<line x1="402.2" y1="408.1" x2="402.2" y2="413.1" stroke="#111" stroke-width="1.30" stroke-linecap="butt"/>
<text transform="translate(402.2 425.0) rotate(0.05) scale(1.000 1.060)" font-size="9.70" text-anchor="middle" font-weight="bold" fill="#111" stroke="#111" stroke-width="0.22">18</text>
<line x1="424.2" y1="408.1" x2="424.2" y2="413.1" stroke="#111" stroke-width="1.30" stroke-linecap="butt"/>
<text transform="translate(424.2 425.0) rotate(0.05) scale(1.000 1.060)" font-size="9.70" text-anchor="middle" font-weight="bold" fill="#111" stroke="#111" stroke-width="0.22">21</text>
<line x1="446.3" y1="408.1" x2="446.3" y2="413.1" stroke="#111" stroke-width="1.30" stroke-linecap="butt"/>
<text transform="translate(446.3 425.0) rotate(0.05) scale(1.000 1.060)" font-size="9.70" text-anchor="middle" font-weight="bold" fill="#111" stroke="#111" stroke-width="0.22">24</text>
<line x1="468.3" y1="408.1" x2="468.3" y2="413.1" stroke="#111" stroke-width="1.30" stroke-linecap="butt"/>
<text transform="translate(468.3 425.0) rotate(0.05) scale(1.000 1.060)" font-size="9.70" text-anchor="middle" font-weight="bold" fill="#111" stroke="#111" stroke-width="0.22">27</text>
<text transform="translate(371.0 439.5) rotate(0.05) scale(1.000 1.060)" font-size="9.70" text-anchor="middle" font-weight="bold" fill="#111" stroke="#111" stroke-width="0.22">Time (days)</text>
<text transform="translate(233.6 340.5) rotate(-90) scale(1.000 1.060)" font-size="9.70" text-anchor="middle" font-weight="bold" fill="#111" stroke="#111" stroke-width="0.22">Tumor volume (mm<tspan dy="-4.0" font-size="7.2">3</tspan><tspan dy="4.0">)</tspan></text>
<line x1="314.1" y1="403.5" x2="314.1" y2="404.8" stroke="#e8392b" stroke-width="0.90" stroke-linecap="butt"/>
<line x1="311.5" y1="403.5" x2="316.7" y2="403.5" stroke="#e8392b" stroke-width="0.90" stroke-linecap="butt"/>
<line x1="311.5" y1="404.8" x2="316.7" y2="404.8" stroke="#e8392b" stroke-width="0.90" stroke-linecap="butt"/>
<line x1="336.2" y1="402.0" x2="336.2" y2="403.6" stroke="#e8392b" stroke-width="0.90" stroke-linecap="butt"/>
<line x1="333.6" y1="402.0" x2="338.8" y2="402.0" stroke="#e8392b" stroke-width="0.90" stroke-linecap="butt"/>
<line x1="333.6" y1="403.6" x2="338.8" y2="403.6" stroke="#e8392b" stroke-width="0.90" stroke-linecap="butt"/>
<line x1="358.2" y1="400.2" x2="358.2" y2="402.3" stroke="#e8392b" stroke-width="0.90" stroke-linecap="butt"/>
<line x1="355.6" y1="400.2" x2="360.8" y2="400.2" stroke="#e8392b" stroke-width="0.90" stroke-linecap="butt"/>
<line x1="355.6" y1="402.3" x2="360.8" y2="402.3" stroke="#e8392b" stroke-width="0.90" stroke-linecap="butt"/>
<line x1="380.2" y1="397.8" x2="380.2" y2="400.4" stroke="#e8392b" stroke-width="0.90" stroke-linecap="butt"/>
<line x1="377.6" y1="397.8" x2="382.8" y2="397.8" stroke="#e8392b" stroke-width="0.90" stroke-linecap="butt"/>
<line x1="377.6" y1="400.4" x2="382.8" y2="400.4" stroke="#e8392b" stroke-width="0.90" stroke-linecap="butt"/>
<line x1="402.2" y1="391.3" x2="402.2" y2="395.0" stroke="#e8392b" stroke-width="0.90" stroke-linecap="butt"/>
<line x1="399.6" y1="391.3" x2="404.8" y2="391.3" stroke="#e8392b" stroke-width="0.90" stroke-linecap="butt"/>
<line x1="399.6" y1="395.0" x2="404.8" y2="395.0" stroke="#e8392b" stroke-width="0.90" stroke-linecap="butt"/>
<line x1="424.2" y1="386.2" x2="424.2" y2="390.9" stroke="#e8392b" stroke-width="0.90" stroke-linecap="butt"/>
<line x1="421.6" y1="386.2" x2="426.8" y2="386.2" stroke="#e8392b" stroke-width="0.90" stroke-linecap="butt"/>
<line x1="421.6" y1="390.9" x2="426.8" y2="390.9" stroke="#e8392b" stroke-width="0.90" stroke-linecap="butt"/>
<line x1="446.3" y1="377.6" x2="446.3" y2="386.8" stroke="#e8392b" stroke-width="0.90" stroke-linecap="butt"/>
<line x1="443.7" y1="377.6" x2="448.9" y2="377.6" stroke="#e8392b" stroke-width="0.90" stroke-linecap="butt"/>
<line x1="443.7" y1="386.8" x2="448.9" y2="386.8" stroke="#e8392b" stroke-width="0.90" stroke-linecap="butt"/>
<line x1="468.3" y1="374.7" x2="468.3" y2="386.6" stroke="#e8392b" stroke-width="0.90" stroke-linecap="butt"/>
<line x1="465.7" y1="374.7" x2="470.9" y2="374.7" stroke="#e8392b" stroke-width="0.90" stroke-linecap="butt"/>
<line x1="465.7" y1="386.6" x2="470.9" y2="386.6" stroke="#e8392b" stroke-width="0.90" stroke-linecap="butt"/>
<polyline points="270.1,408.1 292.1,408.1 314.1,404.1 336.2,402.8 358.2,401.2 380.2,399.1 402.2,393.2 424.2,388.5 446.3,382.2 468.3,380.6" fill="none" stroke="#e8392b" stroke-width="1.5" stroke-linejoin="round"/>
<circle cx="270.1" cy="408.1" r="3.2" fill="#e8392b"/>
<circle cx="292.1" cy="408.1" r="3.2" fill="#e8392b"/>
<circle cx="314.1" cy="404.1" r="3.2" fill="#e8392b"/>
<circle cx="336.2" cy="402.8" r="3.2" fill="#e8392b"/>
<circle cx="358.2" cy="401.2" r="3.2" fill="#e8392b"/>
<circle cx="380.2" cy="399.1" r="3.2" fill="#e8392b"/>
<circle cx="402.2" cy="393.2" r="3.2" fill="#e8392b"/>
<circle cx="424.2" cy="388.5" r="3.2" fill="#e8392b"/>
<circle cx="446.3" cy="382.2" r="3.2" fill="#e8392b"/>
<circle cx="468.3" cy="380.6" r="3.2" fill="#e8392b"/>
<line x1="314.1" y1="402.7" x2="314.1" y2="404.3" stroke="#f28b3a" stroke-width="0.90" stroke-linecap="butt"/>
<line x1="311.5" y1="402.7" x2="316.7" y2="402.7" stroke="#f28b3a" stroke-width="0.90" stroke-linecap="butt"/>
<line x1="311.5" y1="404.3" x2="316.7" y2="404.3" stroke="#f28b3a" stroke-width="0.90" stroke-linecap="butt"/>
<line x1="336.2" y1="400.7" x2="336.2" y2="402.8" stroke="#f28b3a" stroke-width="0.90" stroke-linecap="butt"/>
<line x1="333.6" y1="400.7" x2="338.8" y2="400.7" stroke="#f28b3a" stroke-width="0.90" stroke-linecap="butt"/>
<line x1="333.6" y1="402.8" x2="338.8" y2="402.8" stroke="#f28b3a" stroke-width="0.90" stroke-linecap="butt"/>
<line x1="358.2" y1="391.7" x2="358.2" y2="394.9" stroke="#f28b3a" stroke-width="0.90" stroke-linecap="butt"/>
<line x1="355.6" y1="391.7" x2="360.8" y2="391.7" stroke="#f28b3a" stroke-width="0.90" stroke-linecap="butt"/>
<line x1="355.6" y1="394.9" x2="360.8" y2="394.9" stroke="#f28b3a" stroke-width="0.90" stroke-linecap="butt"/>
<line x1="380.2" y1="378.0" x2="380.2" y2="383.2" stroke="#f28b3a" stroke-width="0.90" stroke-linecap="butt"/>
<line x1="377.6" y1="378.0" x2="382.8" y2="378.0" stroke="#f28b3a" stroke-width="0.90" stroke-linecap="butt"/>
<line x1="377.6" y1="383.2" x2="382.8" y2="383.2" stroke="#f28b3a" stroke-width="0.90" stroke-linecap="butt"/>
<line x1="402.2" y1="373.5" x2="402.2" y2="379.3" stroke="#f28b3a" stroke-width="0.90" stroke-linecap="butt"/>
<line x1="399.6" y1="373.5" x2="404.8" y2="373.5" stroke="#f28b3a" stroke-width="0.90" stroke-linecap="butt"/>
<line x1="399.6" y1="379.3" x2="404.8" y2="379.3" stroke="#f28b3a" stroke-width="0.90" stroke-linecap="butt"/>
<line x1="424.2" y1="364.7" x2="424.2" y2="372.1" stroke="#f28b3a" stroke-width="0.90" stroke-linecap="butt"/>
<line x1="421.6" y1="364.7" x2="426.8" y2="364.7" stroke="#f28b3a" stroke-width="0.90" stroke-linecap="butt"/>
<line x1="421.6" y1="372.1" x2="426.8" y2="372.1" stroke="#f28b3a" stroke-width="0.90" stroke-linecap="butt"/>
<line x1="446.3" y1="350.7" x2="446.3" y2="366.6" stroke="#f28b3a" stroke-width="0.90" stroke-linecap="butt"/>
<line x1="443.7" y1="350.7" x2="448.9" y2="350.7" stroke="#f28b3a" stroke-width="0.90" stroke-linecap="butt"/>
<line x1="443.7" y1="366.6" x2="448.9" y2="366.6" stroke="#f28b3a" stroke-width="0.90" stroke-linecap="butt"/>
<line x1="468.3" y1="325.7" x2="468.3" y2="353.5" stroke="#f28b3a" stroke-width="0.90" stroke-linecap="butt"/>
<line x1="465.7" y1="325.7" x2="470.9" y2="325.7" stroke="#f28b3a" stroke-width="0.90" stroke-linecap="butt"/>
<line x1="465.7" y1="353.5" x2="470.9" y2="353.5" stroke="#f28b3a" stroke-width="0.90" stroke-linecap="butt"/>
<polyline points="270.1,408.1 292.1,408.1 314.1,403.5 336.2,401.8 358.2,393.3 380.2,380.6 402.2,376.4 424.2,368.4 446.3,358.7 468.3,339.6" fill="none" stroke="#f28b3a" stroke-width="1.5" stroke-linejoin="round"/>
<path d="M270.1 404.9 l2.6 3.2 l-2.6 3.2 l-2.6 -3.2 z" fill="#f28b3a"/>
<path d="M292.1 404.9 l2.6 3.2 l-2.6 3.2 l-2.6 -3.2 z" fill="#f28b3a"/>
<path d="M314.1 400.3 l2.6 3.2 l-2.6 3.2 l-2.6 -3.2 z" fill="#f28b3a"/>
<path d="M336.2 398.6 l2.6 3.2 l-2.6 3.2 l-2.6 -3.2 z" fill="#f28b3a"/>
<path d="M358.2 390.1 l2.6 3.2 l-2.6 3.2 l-2.6 -3.2 z" fill="#f28b3a"/>
<path d="M380.2 377.4 l2.6 3.2 l-2.6 3.2 l-2.6 -3.2 z" fill="#f28b3a"/>
<path d="M402.2 373.2 l2.6 3.2 l-2.6 3.2 l-2.6 -3.2 z" fill="#f28b3a"/>
<path d="M424.2 365.2 l2.6 3.2 l-2.6 3.2 l-2.6 -3.2 z" fill="#f28b3a"/>
<path d="M446.3 355.5 l2.6 3.2 l-2.6 3.2 l-2.6 -3.2 z" fill="#f28b3a"/>
<path d="M468.3 336.4 l2.6 3.2 l-2.6 3.2 l-2.6 -3.2 z" fill="#f28b3a"/>
<line x1="314.1" y1="403.7" x2="314.1" y2="405.1" stroke="#5bd02c" stroke-width="0.90" stroke-linecap="butt"/>
<line x1="311.5" y1="403.7" x2="316.7" y2="403.7" stroke="#5bd02c" stroke-width="0.90" stroke-linecap="butt"/>
<line x1="311.5" y1="405.1" x2="316.7" y2="405.1" stroke="#5bd02c" stroke-width="0.90" stroke-linecap="butt"/>
<line x1="336.2" y1="402.7" x2="336.2" y2="404.3" stroke="#5bd02c" stroke-width="0.90" stroke-linecap="butt"/>
<line x1="333.6" y1="402.7" x2="338.8" y2="402.7" stroke="#5bd02c" stroke-width="0.90" stroke-linecap="butt"/>
<line x1="333.6" y1="404.3" x2="338.8" y2="404.3" stroke="#5bd02c" stroke-width="0.90" stroke-linecap="butt"/>
<line x1="358.2" y1="401.5" x2="358.2" y2="403.6" stroke="#5bd02c" stroke-width="0.90" stroke-linecap="butt"/>
<line x1="355.6" y1="401.5" x2="360.8" y2="401.5" stroke="#5bd02c" stroke-width="0.90" stroke-linecap="butt"/>
<line x1="355.6" y1="403.6" x2="360.8" y2="403.6" stroke="#5bd02c" stroke-width="0.90" stroke-linecap="butt"/>
<line x1="380.2" y1="399.5" x2="380.2" y2="402.2" stroke="#5bd02c" stroke-width="0.90" stroke-linecap="butt"/>
<line x1="377.6" y1="399.5" x2="382.8" y2="399.5" stroke="#5bd02c" stroke-width="0.90" stroke-linecap="butt"/>
<line x1="377.6" y1="402.2" x2="382.8" y2="402.2" stroke="#5bd02c" stroke-width="0.90" stroke-linecap="butt"/>
<line x1="402.2" y1="393.0" x2="402.2" y2="396.7" stroke="#5bd02c" stroke-width="0.90" stroke-linecap="butt"/>
<line x1="399.6" y1="393.0" x2="404.8" y2="393.0" stroke="#5bd02c" stroke-width="0.90" stroke-linecap="butt"/>
<line x1="399.6" y1="396.7" x2="404.8" y2="396.7" stroke="#5bd02c" stroke-width="0.90" stroke-linecap="butt"/>
<line x1="424.2" y1="389.5" x2="424.2" y2="393.7" stroke="#5bd02c" stroke-width="0.90" stroke-linecap="butt"/>
<line x1="421.6" y1="389.5" x2="426.8" y2="389.5" stroke="#5bd02c" stroke-width="0.90" stroke-linecap="butt"/>
<line x1="421.6" y1="393.7" x2="426.8" y2="393.7" stroke="#5bd02c" stroke-width="0.90" stroke-linecap="butt"/>
<line x1="446.3" y1="381.9" x2="446.3" y2="389.3" stroke="#5bd02c" stroke-width="0.90" stroke-linecap="butt"/>
<line x1="443.7" y1="381.9" x2="448.9" y2="381.9" stroke="#5bd02c" stroke-width="0.90" stroke-linecap="butt"/>
<line x1="443.7" y1="389.3" x2="448.9" y2="389.3" stroke="#5bd02c" stroke-width="0.90" stroke-linecap="butt"/>
<line x1="468.3" y1="368.8" x2="468.3" y2="388.7" stroke="#5bd02c" stroke-width="0.90" stroke-linecap="butt"/>
<line x1="465.7" y1="368.8" x2="470.9" y2="368.8" stroke="#5bd02c" stroke-width="0.90" stroke-linecap="butt"/>
<line x1="465.7" y1="388.7" x2="470.9" y2="388.7" stroke="#5bd02c" stroke-width="0.90" stroke-linecap="butt"/>
<polyline points="270.1,408.1 292.1,408.1 314.1,404.4 336.2,403.5 358.2,402.5 380.2,400.8 402.2,394.9 424.2,391.6 446.3,385.6 468.3,378.8" fill="none" stroke="#5bd02c" stroke-width="1.5" stroke-linejoin="round"/>
<path d="M270.1 411.1 l3 -5.2 h-6 z" fill="#5bd02c"/>
<path d="M292.1 411.1 l3 -5.2 h-6 z" fill="#5bd02c"/>
<path d="M314.1 407.4 l3 -5.2 h-6 z" fill="#5bd02c"/>
<path d="M336.2 406.5 l3 -5.2 h-6 z" fill="#5bd02c"/>
<path d="M358.2 405.5 l3 -5.2 h-6 z" fill="#5bd02c"/>
<path d="M380.2 403.8 l3 -5.2 h-6 z" fill="#5bd02c"/>
<path d="M402.2 397.9 l3 -5.2 h-6 z" fill="#5bd02c"/>
<path d="M424.2 394.6 l3 -5.2 h-6 z" fill="#5bd02c"/>
<path d="M446.3 388.6 l3 -5.2 h-6 z" fill="#5bd02c"/>
<path d="M468.3 381.8 l3 -5.2 h-6 z" fill="#5bd02c"/>
<line x1="314.1" y1="398.8" x2="314.1" y2="401.0" stroke="#3e52c8" stroke-width="0.90" stroke-linecap="butt"/>
<line x1="311.5" y1="398.8" x2="316.7" y2="398.8" stroke="#3e52c8" stroke-width="0.90" stroke-linecap="butt"/>
<line x1="311.5" y1="401.0" x2="316.7" y2="401.0" stroke="#3e52c8" stroke-width="0.90" stroke-linecap="butt"/>
<line x1="336.2" y1="393.3" x2="336.2" y2="395.9" stroke="#3e52c8" stroke-width="0.90" stroke-linecap="butt"/>
<line x1="333.6" y1="393.3" x2="338.8" y2="393.3" stroke="#3e52c8" stroke-width="0.90" stroke-linecap="butt"/>
<line x1="333.6" y1="395.9" x2="338.8" y2="395.9" stroke="#3e52c8" stroke-width="0.90" stroke-linecap="butt"/>
<line x1="358.2" y1="390.1" x2="358.2" y2="393.8" stroke="#3e52c8" stroke-width="0.90" stroke-linecap="butt"/>
<line x1="355.6" y1="390.1" x2="360.8" y2="390.1" stroke="#3e52c8" stroke-width="0.90" stroke-linecap="butt"/>
<line x1="355.6" y1="393.8" x2="360.8" y2="393.8" stroke="#3e52c8" stroke-width="0.90" stroke-linecap="butt"/>
<line x1="380.2" y1="368.2" x2="380.2" y2="377.4" stroke="#3e52c8" stroke-width="0.90" stroke-linecap="butt"/>
<line x1="377.6" y1="368.2" x2="382.8" y2="368.2" stroke="#3e52c8" stroke-width="0.90" stroke-linecap="butt"/>
<line x1="377.6" y1="377.4" x2="382.8" y2="377.4" stroke="#3e52c8" stroke-width="0.90" stroke-linecap="butt"/>
<line x1="402.2" y1="352.6" x2="402.2" y2="361.8" stroke="#3e52c8" stroke-width="0.90" stroke-linecap="butt"/>
<line x1="399.6" y1="352.6" x2="404.8" y2="352.6" stroke="#3e52c8" stroke-width="0.90" stroke-linecap="butt"/>
<line x1="399.6" y1="361.8" x2="404.8" y2="361.8" stroke="#3e52c8" stroke-width="0.90" stroke-linecap="butt"/>
<line x1="424.2" y1="344.6" x2="424.2" y2="355.2" stroke="#3e52c8" stroke-width="0.90" stroke-linecap="butt"/>
<line x1="421.6" y1="344.6" x2="426.8" y2="344.6" stroke="#3e52c8" stroke-width="0.90" stroke-linecap="butt"/>
<line x1="421.6" y1="355.2" x2="426.8" y2="355.2" stroke="#3e52c8" stroke-width="0.90" stroke-linecap="butt"/>
<line x1="446.3" y1="314.2" x2="446.3" y2="324.8" stroke="#3e52c8" stroke-width="0.90" stroke-linecap="butt"/>
<line x1="443.7" y1="314.2" x2="448.9" y2="314.2" stroke="#3e52c8" stroke-width="0.90" stroke-linecap="butt"/>
<line x1="443.7" y1="324.8" x2="448.9" y2="324.8" stroke="#3e52c8" stroke-width="0.90" stroke-linecap="butt"/>
<line x1="468.3" y1="294.7" x2="468.3" y2="310.5" stroke="#3e52c8" stroke-width="0.90" stroke-linecap="butt"/>
<line x1="465.7" y1="294.7" x2="470.9" y2="294.7" stroke="#3e52c8" stroke-width="0.90" stroke-linecap="butt"/>
<line x1="465.7" y1="310.5" x2="470.9" y2="310.5" stroke="#3e52c8" stroke-width="0.90" stroke-linecap="butt"/>
<polyline points="270.1,408.1 292.1,408.1 314.1,399.9 336.2,394.6 358.2,392.0 380.2,372.8 402.2,357.2 424.2,349.9 446.3,319.5 468.3,302.6" fill="none" stroke="#3e52c8" stroke-width="1.5" stroke-linejoin="round"/>
<path d="M270.1 404.9 l3 5.4 h-6 z" fill="#3e52c8"/>
<path d="M292.1 404.9 l3 5.4 h-6 z" fill="#3e52c8"/>
<path d="M314.1 396.7 l3 5.4 h-6 z" fill="#3e52c8"/>
<path d="M336.2 391.4 l3 5.4 h-6 z" fill="#3e52c8"/>
<path d="M358.2 388.8 l3 5.4 h-6 z" fill="#3e52c8"/>
<path d="M380.2 369.6 l3 5.4 h-6 z" fill="#3e52c8"/>
<path d="M402.2 354.0 l3 5.4 h-6 z" fill="#3e52c8"/>
<path d="M424.2 346.7 l3 5.4 h-6 z" fill="#3e52c8"/>
<path d="M446.3 316.3 l3 5.4 h-6 z" fill="#3e52c8"/>
<path d="M468.3 299.4 l3 5.4 h-6 z" fill="#3e52c8"/>
<line x1="314.1" y1="404.3" x2="314.1" y2="405.6" stroke="#9b4ed6" stroke-width="0.90" stroke-linecap="butt"/>
<line x1="311.5" y1="404.3" x2="316.7" y2="404.3" stroke="#9b4ed6" stroke-width="0.90" stroke-linecap="butt"/>
<line x1="311.5" y1="405.6" x2="316.7" y2="405.6" stroke="#9b4ed6" stroke-width="0.90" stroke-linecap="butt"/>
<line x1="336.2" y1="398.8" x2="336.2" y2="401.0" stroke="#9b4ed6" stroke-width="0.90" stroke-linecap="butt"/>
<line x1="333.6" y1="398.8" x2="338.8" y2="398.8" stroke="#9b4ed6" stroke-width="0.90" stroke-linecap="butt"/>
<line x1="333.6" y1="401.0" x2="338.8" y2="401.0" stroke="#9b4ed6" stroke-width="0.90" stroke-linecap="butt"/>
<line x1="358.2" y1="391.4" x2="358.2" y2="394.6" stroke="#9b4ed6" stroke-width="0.90" stroke-linecap="butt"/>
<line x1="355.6" y1="391.4" x2="360.8" y2="391.4" stroke="#9b4ed6" stroke-width="0.90" stroke-linecap="butt"/>
<line x1="355.6" y1="394.6" x2="360.8" y2="394.6" stroke="#9b4ed6" stroke-width="0.90" stroke-linecap="butt"/>
<line x1="380.2" y1="383.0" x2="380.2" y2="388.3" stroke="#9b4ed6" stroke-width="0.90" stroke-linecap="butt"/>
<line x1="377.6" y1="383.0" x2="382.8" y2="383.0" stroke="#9b4ed6" stroke-width="0.90" stroke-linecap="butt"/>
<line x1="377.6" y1="388.3" x2="382.8" y2="388.3" stroke="#9b4ed6" stroke-width="0.90" stroke-linecap="butt"/>
<line x1="402.2" y1="369.0" x2="402.2" y2="376.4" stroke="#9b4ed6" stroke-width="0.90" stroke-linecap="butt"/>
<line x1="399.6" y1="369.0" x2="404.8" y2="369.0" stroke="#9b4ed6" stroke-width="0.90" stroke-linecap="butt"/>
<line x1="399.6" y1="376.4" x2="404.8" y2="376.4" stroke="#9b4ed6" stroke-width="0.90" stroke-linecap="butt"/>
<line x1="424.2" y1="357.2" x2="424.2" y2="366.5" stroke="#9b4ed6" stroke-width="0.90" stroke-linecap="butt"/>
<line x1="421.6" y1="357.2" x2="426.8" y2="357.2" stroke="#9b4ed6" stroke-width="0.90" stroke-linecap="butt"/>
<line x1="421.6" y1="366.5" x2="426.8" y2="366.5" stroke="#9b4ed6" stroke-width="0.90" stroke-linecap="butt"/>
<line x1="446.3" y1="343.6" x2="446.3" y2="355.5" stroke="#9b4ed6" stroke-width="0.90" stroke-linecap="butt"/>
<line x1="443.7" y1="343.6" x2="448.9" y2="343.6" stroke="#9b4ed6" stroke-width="0.90" stroke-linecap="butt"/>
<line x1="443.7" y1="355.5" x2="448.9" y2="355.5" stroke="#9b4ed6" stroke-width="0.90" stroke-linecap="butt"/>
<line x1="468.3" y1="317.0" x2="468.3" y2="342.1" stroke="#9b4ed6" stroke-width="0.90" stroke-linecap="butt"/>
<line x1="465.7" y1="317.0" x2="470.9" y2="317.0" stroke="#9b4ed6" stroke-width="0.90" stroke-linecap="butt"/>
<line x1="465.7" y1="342.1" x2="470.9" y2="342.1" stroke="#9b4ed6" stroke-width="0.90" stroke-linecap="butt"/>
<polyline points="270.1,408.1 292.1,408.1 314.1,404.9 336.2,399.9 358.2,393.0 380.2,385.6 402.2,372.7 424.2,361.8 446.3,349.5 468.3,329.6" fill="none" stroke="#9b4ed6" stroke-width="1.5" stroke-linejoin="round"/>
<rect x="267.3" y="405.3" width="5.6" height="5.6" fill="#9b4ed6"/>
<rect x="289.3" y="405.3" width="5.6" height="5.6" fill="#9b4ed6"/>
<rect x="311.3" y="402.1" width="5.6" height="5.6" fill="#9b4ed6"/>
<rect x="333.4" y="397.1" width="5.6" height="5.6" fill="#9b4ed6"/>
<rect x="355.4" y="390.2" width="5.6" height="5.6" fill="#9b4ed6"/>
<rect x="377.4" y="382.8" width="5.6" height="5.6" fill="#9b4ed6"/>
<rect x="399.4" y="369.9" width="5.6" height="5.6" fill="#9b4ed6"/>
<rect x="421.4" y="359.0" width="5.6" height="5.6" fill="#9b4ed6"/>
<rect x="443.5" y="346.7" width="5.6" height="5.6" fill="#9b4ed6"/>
<rect x="465.5" y="326.8" width="5.6" height="5.6" fill="#9b4ed6"/>
<line x1="314.1" y1="399.6" x2="314.1" y2="401.8" stroke="#000000" stroke-width="0.90" stroke-linecap="butt"/>
<line x1="311.5" y1="399.6" x2="316.7" y2="399.6" stroke="#000000" stroke-width="0.90" stroke-linecap="butt"/>
<line x1="311.5" y1="401.8" x2="316.7" y2="401.8" stroke="#000000" stroke-width="0.90" stroke-linecap="butt"/>
<line x1="336.2" y1="391.7" x2="336.2" y2="394.9" stroke="#000000" stroke-width="0.90" stroke-linecap="butt"/>
<line x1="333.6" y1="391.7" x2="338.8" y2="391.7" stroke="#000000" stroke-width="0.90" stroke-linecap="butt"/>
<line x1="333.6" y1="394.9" x2="338.8" y2="394.9" stroke="#000000" stroke-width="0.90" stroke-linecap="butt"/>
<line x1="358.2" y1="388.7" x2="358.2" y2="392.4" stroke="#000000" stroke-width="0.90" stroke-linecap="butt"/>
<line x1="355.6" y1="388.7" x2="360.8" y2="388.7" stroke="#000000" stroke-width="0.90" stroke-linecap="butt"/>
<line x1="355.6" y1="392.4" x2="360.8" y2="392.4" stroke="#000000" stroke-width="0.90" stroke-linecap="butt"/>
<line x1="380.2" y1="375.8" x2="380.2" y2="382.5" stroke="#000000" stroke-width="0.90" stroke-linecap="butt"/>
<line x1="377.6" y1="375.8" x2="382.8" y2="375.8" stroke="#000000" stroke-width="0.90" stroke-linecap="butt"/>
<line x1="377.6" y1="382.5" x2="382.8" y2="382.5" stroke="#000000" stroke-width="0.90" stroke-linecap="butt"/>
<line x1="402.2" y1="362.2" x2="402.2" y2="370.2" stroke="#000000" stroke-width="0.90" stroke-linecap="butt"/>
<line x1="399.6" y1="362.2" x2="404.8" y2="362.2" stroke="#000000" stroke-width="0.90" stroke-linecap="butt"/>
<line x1="399.6" y1="370.2" x2="404.8" y2="370.2" stroke="#000000" stroke-width="0.90" stroke-linecap="butt"/>
<line x1="424.2" y1="339.1" x2="424.2" y2="353.6" stroke="#000000" stroke-width="0.90" stroke-linecap="butt"/>
<line x1="421.6" y1="339.1" x2="426.8" y2="339.1" stroke="#000000" stroke-width="0.90" stroke-linecap="butt"/>
<line x1="421.6" y1="353.6" x2="426.8" y2="353.6" stroke="#000000" stroke-width="0.90" stroke-linecap="butt"/>
<line x1="446.3" y1="296.8" x2="446.3" y2="328.5" stroke="#000000" stroke-width="0.90" stroke-linecap="butt"/>
<line x1="443.7" y1="296.8" x2="448.9" y2="296.8" stroke="#000000" stroke-width="0.90" stroke-linecap="butt"/>
<line x1="443.7" y1="328.5" x2="448.9" y2="328.5" stroke="#000000" stroke-width="0.90" stroke-linecap="butt"/>
<line x1="468.3" y1="275.8" x2="468.3" y2="315.4" stroke="#000000" stroke-width="0.90" stroke-linecap="butt"/>
<line x1="465.7" y1="275.8" x2="470.9" y2="275.8" stroke="#000000" stroke-width="0.90" stroke-linecap="butt"/>
<line x1="465.7" y1="315.4" x2="470.9" y2="315.4" stroke="#000000" stroke-width="0.90" stroke-linecap="butt"/>
<polyline points="270.1,408.1 292.1,408.1 314.1,400.7 336.2,393.3 358.2,390.5 380.2,379.1 402.2,366.2 424.2,346.4 446.3,312.7 468.3,295.6" fill="none" stroke="#000000" stroke-width="1.5" stroke-linejoin="round"/>
<circle cx="270.1" cy="408.1" r="3.2" fill="#000000"/>
<circle cx="292.1" cy="408.1" r="3.2" fill="#000000"/>
<circle cx="314.1" cy="400.7" r="3.2" fill="#000000"/>
<circle cx="336.2" cy="393.3" r="3.2" fill="#000000"/>
<circle cx="358.2" cy="390.5" r="3.2" fill="#000000"/>
<circle cx="380.2" cy="379.1" r="3.2" fill="#000000"/>
<circle cx="402.2" cy="366.2" r="3.2" fill="#000000"/>
<circle cx="424.2" cy="346.4" r="3.2" fill="#000000"/>
<circle cx="446.3" cy="312.7" r="3.2" fill="#000000"/>
<circle cx="468.3" cy="295.6" r="3.2" fill="#000000"/>
<line x1="274.6" y1="271.4" x2="288.6" y2="271.4" stroke="#000000" stroke-width="1.40" stroke-linecap="butt"/>
<circle cx="281.5" cy="271.4" r="3.2" fill="#000000"/>
<text transform="translate(297.4 274.8) rotate(0.05) scale(1.000 1.060)" font-size="9.70" text-anchor="start" font-weight="bold" fill="#111" stroke="#111" stroke-width="0.22">shNT</text>
<line x1="274.6" y1="288.9" x2="288.6" y2="288.9" stroke="#9b4ed6" stroke-width="1.40" stroke-linecap="butt"/>
<rect x="278.7" y="286.1" width="5.6" height="5.6" fill="#9b4ed6"/>
<text transform="translate(297.4 292.3) rotate(0.05) scale(1.000 1.060)" font-size="9.70" text-anchor="start" font-weight="bold" fill="#111" stroke="#111" stroke-width="0.22">shSNAP23</text>
<line x1="274.6" y1="306.5" x2="288.6" y2="306.5" stroke="#3e52c8" stroke-width="1.40" stroke-linecap="butt"/>
<path d="M281.5 303.3 l3 5.4 h-6 z" fill="#3e52c8"/>
<text transform="translate(297.4 309.9) rotate(0.05) scale(1.000 1.060)" font-size="9.70" text-anchor="start" font-weight="bold" fill="#111" stroke="#111" stroke-width="0.22">sh+rSNAP23</text>
<line x1="274.6" y1="324.3" x2="288.6" y2="324.3" stroke="#5bd02c" stroke-width="1.40" stroke-linecap="butt"/>
<path d="M281.5 327.3 l3 -5.2 h-6 z" fill="#5bd02c"/>
<text transform="translate(297.4 327.7) rotate(0.05) scale(1.000 1.060)" font-size="9.70" text-anchor="start" font-weight="bold" fill="#111" stroke="#111" stroke-width="0.22">shNT</text>
<line x1="274.6" y1="342.2" x2="288.6" y2="342.2" stroke="#f28b3a" stroke-width="1.40" stroke-linecap="butt"/>
<path d="M281.5 339.0 l2.6 3.2 l-2.6 3.2 l-2.6 -3.2 z" fill="#f28b3a"/>
<text transform="translate(297.4 345.6) rotate(0.05) scale(1.000 1.060)" font-size="9.70" text-anchor="start" font-weight="bold" fill="#111" stroke="#111" stroke-width="0.22">shSNAP23</text>
<line x1="274.6" y1="360.2" x2="288.6" y2="360.2" stroke="#e8392b" stroke-width="1.40" stroke-linecap="butt"/>
<circle cx="281.5" cy="360.2" r="3.2" fill="#e8392b"/>
<text transform="translate(297.4 363.6) rotate(0.05) scale(1.000 1.060)" font-size="9.70" text-anchor="start" font-weight="bold" fill="#111" stroke="#111" stroke-width="0.22">sh+rSNAP23</text>
<line x1="360.9" y1="263.5" x2="360.9" y2="310.6" stroke="#111" stroke-width="1.50" stroke-linecap="butt"/>
<line x1="360.9" y1="319.3" x2="360.9" y2="366.0" stroke="#111" stroke-width="1.50" stroke-linecap="butt"/>
<text transform="translate(366.5 286.5) rotate(90) scale(1.000 1.060)" font-size="9.70" text-anchor="middle" font-weight="bold" fill="#111" stroke="#111" stroke-width="0.22">OXA-</text>
<text transform="translate(366.5 342.5) rotate(90) scale(1.000 1.060)" font-size="9.70" text-anchor="middle" font-weight="bold" fill="#111" stroke="#111" stroke-width="0.22">OXA+</text>
<line x1="476.6" y1="291.5" x2="476.6" y2="329.0" stroke="#111" stroke-width="1.45" stroke-linecap="butt"/>
<text transform="translate(479.8 310.0) rotate(90) scale(1.000 1.150)" font-size="9.70" text-anchor="middle" font-weight="bold" fill="#111" stroke="#111" stroke-width="0.22"><tspan font-style="italic">P</tspan>=0.0036</text>
<line x1="495.2" y1="290.4" x2="495.2" y2="336.6" stroke="#111" stroke-width="1.45" stroke-linecap="butt"/>
<text transform="translate(499.6 314.0) rotate(90) scale(1.000 1.150)" font-size="9.70" text-anchor="middle" font-weight="bold" fill="#111" stroke="#111" stroke-width="0.22"><tspan font-style="italic">P</tspan>=0.0003</text>
<line x1="476.6" y1="337.0" x2="476.6" y2="377.5" stroke="#111" stroke-width="1.45" stroke-linecap="butt"/>
<text transform="translate(479.8 357.0) rotate(90) scale(1.000 1.150)" font-size="9.70" text-anchor="middle" font-weight="bold" fill="#111" stroke="#111" stroke-width="0.22"><tspan font-style="italic">P</tspan>=0.0021</text>
<line x1="491.8" y1="338.3" x2="491.8" y2="377.5" stroke="#111" stroke-width="1.45" stroke-linecap="butt"/>
<text transform="translate(495.8 361.5) rotate(90) scale(1.000 1.150)" font-size="9.70" text-anchor="middle" font-weight="bold" fill="#111" stroke="#111" stroke-width="0.22"><tspan font-style="italic">P</tspan>=0.0013</text>
<text x="513.1" y="243.2" font-size="16.9" font-weight="normal" fill="#111" stroke="#111" stroke-width="1.0">F</text>
<line x1="552.1" y1="280.7" x2="552.1" y2="410.2" stroke="#111" stroke-width="1.45" stroke-linecap="butt"/>
<line x1="547.1" y1="410.9" x2="552.1" y2="410.9" stroke="#111" stroke-width="1.45" stroke-linecap="butt"/>
<text transform="translate(545.6 414.6) rotate(0.05) scale(1.000 1.060)" font-size="9.70" text-anchor="end" font-weight="bold" fill="#111" stroke="#111" stroke-width="0.22">0</text>
<line x1="547.1" y1="384.7" x2="552.1" y2="384.7" stroke="#111" stroke-width="1.45" stroke-linecap="butt"/>
<text transform="translate(545.6 388.4) rotate(0.05) scale(1.000 1.060)" font-size="9.70" text-anchor="end" font-weight="bold" fill="#111" stroke="#111" stroke-width="0.22">200</text>
<line x1="547.1" y1="358.5" x2="552.1" y2="358.5" stroke="#111" stroke-width="1.45" stroke-linecap="butt"/>
<text transform="translate(545.6 362.2) rotate(0.05) scale(1.000 1.060)" font-size="9.70" text-anchor="end" font-weight="bold" fill="#111" stroke="#111" stroke-width="0.22">400</text>
<line x1="547.1" y1="332.4" x2="552.1" y2="332.4" stroke="#111" stroke-width="1.45" stroke-linecap="butt"/>
<text transform="translate(545.6 336.1) rotate(0.05) scale(1.000 1.060)" font-size="9.70" text-anchor="end" font-weight="bold" fill="#111" stroke="#111" stroke-width="0.22">600</text>
<line x1="547.1" y1="306.2" x2="552.1" y2="306.2" stroke="#111" stroke-width="1.45" stroke-linecap="butt"/>
<text transform="translate(545.6 309.9) rotate(0.05) scale(1.000 1.060)" font-size="9.70" text-anchor="end" font-weight="bold" fill="#111" stroke="#111" stroke-width="0.22">800</text>
<line x1="547.1" y1="280.0" x2="552.1" y2="280.0" stroke="#111" stroke-width="1.45" stroke-linecap="butt"/>
<text transform="translate(545.6 283.7) rotate(0.05) scale(1.000 1.060)" font-size="9.70" text-anchor="end" font-weight="bold" fill="#111" stroke="#111" stroke-width="0.22">1000</text>
<line x1="551.5" y1="410.9" x2="679.8" y2="410.9" stroke="#111" stroke-width="1.30" stroke-linecap="butt"/>
<line x1="565.8" y1="410.9" x2="565.8" y2="416.4" stroke="#111" stroke-width="1.30" stroke-linecap="butt"/>
<text transform="translate(565.8 431.3) rotate(0.05) scale(1.000 1.060)" font-size="8.50" text-anchor="middle" font-weight="bold" fill="#111" stroke="#111" stroke-width="0.22">–</text>
<line x1="586.4" y1="410.9" x2="586.4" y2="416.4" stroke="#111" stroke-width="1.30" stroke-linecap="butt"/>
<text transform="translate(586.4 431.3) rotate(0.05) scale(1.000 1.060)" font-size="8.50" text-anchor="middle" font-weight="bold" fill="#111" stroke="#111" stroke-width="0.22">–</text>
<line x1="607.0" y1="410.9" x2="607.0" y2="416.4" stroke="#111" stroke-width="1.30" stroke-linecap="butt"/>
<text transform="translate(607.0 431.3) rotate(0.05) scale(1.000 1.060)" font-size="8.50" text-anchor="middle" font-weight="bold" fill="#111" stroke="#111" stroke-width="0.22">–</text>
<line x1="627.6" y1="410.9" x2="627.6" y2="416.4" stroke="#111" stroke-width="1.30" stroke-linecap="butt"/>
<text transform="translate(627.6 431.3) rotate(0.05) scale(1.000 1.060)" font-size="8.50" text-anchor="middle" font-weight="bold" fill="#111" stroke="#111" stroke-width="0.22">+</text>
<line x1="648.1" y1="410.9" x2="648.1" y2="416.4" stroke="#111" stroke-width="1.30" stroke-linecap="butt"/>
<text transform="translate(648.1 431.3) rotate(0.05) scale(1.000 1.060)" font-size="8.50" text-anchor="middle" font-weight="bold" fill="#111" stroke="#111" stroke-width="0.22">+</text>
<line x1="668.5" y1="410.9" x2="668.5" y2="416.4" stroke="#111" stroke-width="1.30" stroke-linecap="butt"/>
<text transform="translate(668.5 431.3) rotate(0.05) scale(1.000 1.060)" font-size="8.50" text-anchor="middle" font-weight="bold" fill="#111" stroke="#111" stroke-width="0.22">+</text>
<text transform="translate(533.0 431.8) rotate(0.05) scale(1.000 1.060)" font-size="9.70" text-anchor="start" font-weight="bold" fill="#111" stroke="#111" stroke-width="0.22">OXA</text>
<text transform="translate(523.8 347.0) rotate(-90) scale(1.000 1.060)" font-size="9.80" text-anchor="middle" font-weight="bold" fill="#111" stroke="#111" stroke-width="0.22">Tumer weight (mg)</text>
<line x1="560.0" y1="235.0" x2="573.0" y2="235.0" stroke="#111" stroke-width="1.40" stroke-linecap="butt"/>
<circle cx="566.4" cy="235.0" r="2.45" fill="#ffffff" stroke="#111" stroke-width="1.50"/>
<text transform="translate(582.4 238.4) rotate(0.05) scale(1.000 1.060)" font-size="9.70" text-anchor="start" font-weight="bold" fill="#111" stroke="#111" stroke-width="0.22">shNT</text>
<line x1="560.0" y1="248.2" x2="573.0" y2="248.2" stroke="#111" stroke-width="1.40" stroke-linecap="butt"/>
<circle cx="566.4" cy="248.2" r="2.45" fill="#9fa1a5" stroke="#111" stroke-width="1.50"/>
<text transform="translate(582.4 251.6) rotate(0.05) scale(1.000 1.060)" font-size="9.70" text-anchor="start" font-weight="bold" fill="#111" stroke="#111" stroke-width="0.22">shSNAP23</text>
<line x1="560.0" y1="261.8" x2="573.0" y2="261.8" stroke="#111" stroke-width="1.40" stroke-linecap="butt"/>
<circle cx="566.4" cy="261.8" r="2.45" fill="#8086c9" stroke="#111" stroke-width="1.50"/>
<text transform="translate(582.4 265.2) rotate(0.05) scale(1.000 1.060)" font-size="9.70" text-anchor="start" font-weight="bold" fill="#111" stroke="#111" stroke-width="0.22">sh+rSNAP23</text>
<line x1="565.8" y1="316.0" x2="565.8" y2="342.6" stroke="#111" stroke-width="1.20" stroke-linecap="butt"/>
<line x1="562.8" y1="316.0" x2="568.8" y2="316.0" stroke="#111" stroke-width="1.20" stroke-linecap="butt"/>
<line x1="562.8" y1="342.6" x2="568.8" y2="342.6" stroke="#111" stroke-width="1.20" stroke-linecap="butt"/>
<line x1="559.8" y1="329.3" x2="571.8" y2="329.3" stroke="#111" stroke-width="1.20" stroke-linecap="butt"/>
<circle cx="566.5" cy="310.3" r="2.80" fill="#ffffff" stroke="#111" stroke-width="1.50"/>
<circle cx="570.5" cy="324.8" r="2.80" fill="#ffffff" stroke="#111" stroke-width="1.50"/>
<circle cx="562.4" cy="329.9" r="2.80" fill="#ffffff" stroke="#111" stroke-width="1.50"/>
<circle cx="566.5" cy="335.8" r="2.80" fill="#ffffff" stroke="#111" stroke-width="1.50"/>
<circle cx="566.5" cy="346.2" r="2.80" fill="#ffffff" stroke="#111" stroke-width="1.50"/>
<line x1="586.4" y1="342.6" x2="586.4" y2="355.8" stroke="#111" stroke-width="1.20" stroke-linecap="butt"/>
<line x1="583.4" y1="342.6" x2="589.4" y2="342.6" stroke="#111" stroke-width="1.20" stroke-linecap="butt"/>
<line x1="583.4" y1="355.8" x2="589.4" y2="355.8" stroke="#111" stroke-width="1.20" stroke-linecap="butt"/>
<line x1="580.4" y1="349.3" x2="592.4" y2="349.3" stroke="#111" stroke-width="1.20" stroke-linecap="butt"/>
<circle cx="582.8" cy="342.1" r="2.80" fill="#9fa1a5" stroke="#111" stroke-width="1.50"/>
<circle cx="591.0" cy="343.2" r="2.80" fill="#9fa1a5" stroke="#111" stroke-width="1.50"/>
<circle cx="581.8" cy="349.1" r="2.80" fill="#9fa1a5" stroke="#111" stroke-width="1.50"/>
<circle cx="591.6" cy="352.8" r="2.80" fill="#9fa1a5" stroke="#111" stroke-width="1.50"/>
<circle cx="586.9" cy="358.9" r="2.80" fill="#9fa1a5" stroke="#111" stroke-width="1.50"/>
<line x1="607.0" y1="319.0" x2="607.0" y2="341.5" stroke="#111" stroke-width="1.20" stroke-linecap="butt"/>
<line x1="604.0" y1="319.0" x2="610.0" y2="319.0" stroke="#111" stroke-width="1.20" stroke-linecap="butt"/>
<line x1="604.0" y1="341.5" x2="610.0" y2="341.5" stroke="#111" stroke-width="1.20" stroke-linecap="butt"/>
<line x1="601.0" y1="330.7" x2="613.0" y2="330.7" stroke="#111" stroke-width="1.20" stroke-linecap="butt"/>
<circle cx="607.3" cy="316.0" r="2.80" fill="#8086c9" stroke="#111" stroke-width="1.50"/>
<circle cx="603.2" cy="328.9" r="2.80" fill="#8086c9" stroke="#111" stroke-width="1.50"/>
<circle cx="611.4" cy="326.8" r="2.80" fill="#8086c9" stroke="#111" stroke-width="1.50"/>
<circle cx="607.3" cy="336.0" r="2.80" fill="#8086c9" stroke="#111" stroke-width="1.50"/>
<circle cx="607.3" cy="346.0" r="2.80" fill="#8086c9" stroke="#111" stroke-width="1.50"/>
<line x1="627.6" y1="380.4" x2="627.6" y2="392.6" stroke="#111" stroke-width="1.20" stroke-linecap="butt"/>
<line x1="624.6" y1="380.4" x2="630.6" y2="380.4" stroke="#111" stroke-width="1.20" stroke-linecap="butt"/>
<line x1="624.6" y1="392.6" x2="630.6" y2="392.6" stroke="#111" stroke-width="1.20" stroke-linecap="butt"/>
<line x1="621.6" y1="387.5" x2="633.6" y2="387.5" stroke="#111" stroke-width="1.20" stroke-linecap="butt"/>
<circle cx="627.8" cy="376.3" r="2.80" fill="#ffffff" stroke="#111" stroke-width="1.50"/>
<circle cx="623.7" cy="385.0" r="2.80" fill="#ffffff" stroke="#111" stroke-width="1.50"/>
<circle cx="632.5" cy="387.9" r="2.80" fill="#ffffff" stroke="#111" stroke-width="1.50"/>
<circle cx="626.8" cy="389.6" r="2.80" fill="#ffffff" stroke="#111" stroke-width="1.50"/>
<circle cx="627.8" cy="394.7" r="2.80" fill="#ffffff" stroke="#111" stroke-width="1.50"/>
<line x1="648.1" y1="348.7" x2="648.1" y2="359.9" stroke="#111" stroke-width="1.20" stroke-linecap="butt"/>
<line x1="645.1" y1="348.7" x2="651.1" y2="348.7" stroke="#111" stroke-width="1.20" stroke-linecap="butt"/>
<line x1="645.1" y1="359.9" x2="651.1" y2="359.9" stroke="#111" stroke-width="1.20" stroke-linecap="butt"/>
<line x1="642.1" y1="354.4" x2="654.1" y2="354.4" stroke="#111" stroke-width="1.20" stroke-linecap="butt"/>
<circle cx="648.6" cy="346.0" r="2.80" fill="#9fa1a5" stroke="#111" stroke-width="1.50"/>
<circle cx="644.1" cy="353.8" r="2.80" fill="#9fa1a5" stroke="#111" stroke-width="1.50"/>
<circle cx="653.3" cy="352.8" r="2.80" fill="#9fa1a5" stroke="#111" stroke-width="1.50"/>
<circle cx="653.3" cy="357.9" r="2.80" fill="#9fa1a5" stroke="#111" stroke-width="1.50"/>
<circle cx="648.6" cy="364.0" r="2.80" fill="#9fa1a5" stroke="#111" stroke-width="1.50"/>
<line x1="668.5" y1="382.0" x2="668.5" y2="391.0" stroke="#111" stroke-width="1.20" stroke-linecap="butt"/>
<line x1="665.5" y1="382.0" x2="671.5" y2="382.0" stroke="#111" stroke-width="1.20" stroke-linecap="butt"/>
<line x1="665.5" y1="391.0" x2="671.5" y2="391.0" stroke="#111" stroke-width="1.20" stroke-linecap="butt"/>
<line x1="662.5" y1="386.5" x2="674.5" y2="386.5" stroke="#111" stroke-width="1.20" stroke-linecap="butt"/>
<circle cx="669.0" cy="380.0" r="2.80" fill="#8086c9" stroke="#111" stroke-width="1.50"/>
<circle cx="665.2" cy="385.9" r="2.80" fill="#8086c9" stroke="#111" stroke-width="1.50"/>
<circle cx="673.8" cy="386.5" r="2.80" fill="#8086c9" stroke="#111" stroke-width="1.50"/>
<circle cx="669.0" cy="388.5" r="2.80" fill="#8086c9" stroke="#111" stroke-width="1.50"/>
<circle cx="669.0" cy="393.6" r="2.80" fill="#8086c9" stroke="#111" stroke-width="1.50"/>
<line x1="558.0" y1="282.7" x2="636.4" y2="282.7" stroke="#111" stroke-width="1.35" stroke-linecap="butt"/>
<text transform="translate(601.5 279.5) rotate(0.05) scale(1.000 1.000)" font-size="9.80" text-anchor="middle" font-weight="bold" fill="#111" stroke="#111" stroke-width="0.22"><tspan font-style="italic">P</tspan>=3.9×10<tspan dy="-4.5" font-size="7.4">-9</tspan></text>
<line x1="558.0" y1="297.8" x2="593.2" y2="297.8" stroke="#111" stroke-width="1.35" stroke-linecap="butt"/>
<text transform="translate(577.7 295.0) rotate(0.05) scale(1.000 1.000)" font-size="9.80" text-anchor="middle" font-weight="bold" fill="#111" stroke="#111" stroke-width="0.22"><tspan font-style="italic">P</tspan>=0.0144</text>
<line x1="600.5" y1="297.8" x2="676.9" y2="297.8" stroke="#111" stroke-width="1.35" stroke-linecap="butt"/>
<text transform="translate(637.7 295.0) rotate(0.05) scale(1.000 1.000)" font-size="9.80" text-anchor="middle" font-weight="bold" fill="#111" stroke="#111" stroke-width="0.22"><tspan font-style="italic">P</tspan>=7.0×10<tspan dy="-4.5" font-size="7.4">-9</tspan></text>
<line x1="580.5" y1="309.1" x2="614.8" y2="309.1" stroke="#111" stroke-width="1.35" stroke-linecap="butt"/>
<text transform="translate(598.3 307.0) rotate(0.05) scale(1.000 1.000)" font-size="9.80" text-anchor="middle" font-weight="bold" fill="#111" stroke="#111" stroke-width="0.22"><tspan font-style="italic">P</tspan>=0.0261</text>
<line x1="622.0" y1="322.6" x2="654.5" y2="322.6" stroke="#111" stroke-width="1.35" stroke-linecap="butt"/>
<text transform="translate(642.0 319.6) rotate(0.05) scale(1.000 1.000)" font-size="9.80" text-anchor="middle" font-weight="bold" fill="#111" stroke="#111" stroke-width="0.22"><tspan font-style="italic">P</tspan>=9.1×10<tspan dy="-4.5" font-size="7.4">-5</tspan></text>
<line x1="642.6" y1="336.1" x2="676.9" y2="336.1" stroke="#111" stroke-width="1.35" stroke-linecap="butt"/>
<text transform="translate(660.0 333.6) rotate(0.05) scale(1.000 1.000)" font-size="9.80" text-anchor="middle" font-weight="bold" fill="#111" stroke="#111" stroke-width="0.22"><tspan font-style="italic">P</tspan>=0.0001</text>
<text x="393.2" y="466.7" font-size="16.9" font-weight="normal" fill="#111" stroke="#111" stroke-width="1.0">H</text>
<text transform="translate(497.0 471.0) rotate(0.05) scale(1.000 1.060)" font-size="9.90" text-anchor="middle" font-weight="bold" fill="#111" stroke="#111" stroke-width="0.22">HT29 s.c. CDX model</text>
<line x1="434.0" y1="485.2" x2="434.0" y2="614.1" stroke="#111" stroke-width="1.45" stroke-linecap="butt"/>
<line x1="429.0" y1="614.8" x2="434.0" y2="614.8" stroke="#111" stroke-width="1.45" stroke-linecap="butt"/>
<text transform="translate(427.0 618.5) rotate(0.05) scale(1.000 1.060)" font-size="9.70" text-anchor="end" font-weight="bold" fill="#111" stroke="#111" stroke-width="0.22">0</text>
<line x1="429.0" y1="588.7" x2="434.0" y2="588.7" stroke="#111" stroke-width="1.45" stroke-linecap="butt"/>
<text transform="translate(427.0 592.4) rotate(0.05) scale(1.000 1.060)" font-size="9.70" text-anchor="end" font-weight="bold" fill="#111" stroke="#111" stroke-width="0.22">50</text>
<line x1="429.0" y1="562.7" x2="434.0" y2="562.7" stroke="#111" stroke-width="1.45" stroke-linecap="butt"/>
<text transform="translate(427.0 566.4) rotate(0.05) scale(1.000 1.060)" font-size="9.70" text-anchor="end" font-weight="bold" fill="#111" stroke="#111" stroke-width="0.22">100</text>
<line x1="429.0" y1="536.6" x2="434.0" y2="536.6" stroke="#111" stroke-width="1.45" stroke-linecap="butt"/>
<text transform="translate(427.0 540.3) rotate(0.05) scale(1.000 1.060)" font-size="9.70" text-anchor="end" font-weight="bold" fill="#111" stroke="#111" stroke-width="0.22">150</text>
<line x1="429.0" y1="510.5" x2="434.0" y2="510.5" stroke="#111" stroke-width="1.45" stroke-linecap="butt"/>
<text transform="translate(427.0 514.2) rotate(0.05) scale(1.000 1.060)" font-size="9.70" text-anchor="end" font-weight="bold" fill="#111" stroke="#111" stroke-width="0.22">200</text>
<line x1="429.0" y1="484.4" x2="434.0" y2="484.4" stroke="#111" stroke-width="1.45" stroke-linecap="butt"/>
<text transform="translate(427.0 488.2) rotate(0.05) scale(1.000 1.060)" font-size="9.70" text-anchor="end" font-weight="bold" fill="#111" stroke="#111" stroke-width="0.22">250</text>
<line x1="433.4" y1="614.8" x2="564.6" y2="614.8" stroke="#111" stroke-width="1.30" stroke-linecap="butt"/>
<line x1="447.3" y1="614.8" x2="447.3" y2="620.3" stroke="#111" stroke-width="1.30" stroke-linecap="butt"/>
<rect x="441.1" y="604.9" width="12.4" height="9.9" fill="#ffffff" stroke="#111" stroke-width="1.35"/>
<line x1="447.3" y1="602.8" x2="447.3" y2="604.9" stroke="#111" stroke-width="1.20" stroke-linecap="butt"/>
<line x1="444.7" y1="602.8" x2="449.9" y2="602.8" stroke="#111" stroke-width="1.20" stroke-linecap="butt"/>
<circle cx="443.1" cy="602.9" r="2.60" fill="#fff" stroke="#111" stroke-width="1.40"/>
<circle cx="452.0" cy="600.0" r="2.60" fill="#fff" stroke="#111" stroke-width="1.40"/>
<circle cx="447.7" cy="605.7" r="2.60" fill="#fff" stroke="#111" stroke-width="1.40"/>
<circle cx="443.1" cy="610.0" r="2.60" fill="#fff" stroke="#111" stroke-width="1.40"/>
<circle cx="451.5" cy="608.8" r="2.60" fill="#fff" stroke="#111" stroke-width="1.40"/>
<line x1="467.6" y1="614.8" x2="467.6" y2="620.3" stroke="#111" stroke-width="1.30" stroke-linecap="butt"/>
<rect x="461.4" y="605.7" width="12.4" height="9.1" fill="#9fa1a5" stroke="#111" stroke-width="1.35"/>
<line x1="467.6" y1="604.1" x2="467.6" y2="605.7" stroke="#111" stroke-width="1.20" stroke-linecap="butt"/>
<line x1="465.0" y1="604.1" x2="470.2" y2="604.1" stroke="#111" stroke-width="1.20" stroke-linecap="butt"/>
<circle cx="463.4" cy="602.9" r="2.60" fill="#fff" stroke="#111" stroke-width="1.40"/>
<circle cx="467.0" cy="604.0" r="2.60" fill="#fff" stroke="#111" stroke-width="1.40"/>
<circle cx="472.3" cy="605.7" r="2.60" fill="#fff" stroke="#111" stroke-width="1.40"/>
<circle cx="463.9" cy="609.6" r="2.60" fill="#fff" stroke="#111" stroke-width="1.40"/>
<circle cx="468.7" cy="608.1" r="2.60" fill="#fff" stroke="#111" stroke-width="1.40"/>
<line x1="488.0" y1="614.8" x2="488.0" y2="620.3" stroke="#111" stroke-width="1.30" stroke-linecap="butt"/>
<rect x="481.8" y="602.8" width="12.4" height="12.0" fill="#8086c9" stroke="#111" stroke-width="1.35"/>
<line x1="488.0" y1="600.7" x2="488.0" y2="602.8" stroke="#111" stroke-width="1.20" stroke-linecap="butt"/>
<line x1="485.4" y1="600.7" x2="490.6" y2="600.7" stroke="#111" stroke-width="1.20" stroke-linecap="butt"/>
<circle cx="484.3" cy="598.8" r="2.60" fill="#fff" stroke="#111" stroke-width="1.40"/>
<circle cx="492.6" cy="600.5" r="2.60" fill="#fff" stroke="#111" stroke-width="1.40"/>
<circle cx="483.8" cy="605.7" r="2.60" fill="#fff" stroke="#111" stroke-width="1.40"/>
<circle cx="489.5" cy="603.3" r="2.60" fill="#fff" stroke="#111" stroke-width="1.40"/>
<circle cx="492.6" cy="607.2" r="2.60" fill="#fff" stroke="#111" stroke-width="1.40"/>
<line x1="508.8" y1="614.8" x2="508.8" y2="620.3" stroke="#111" stroke-width="1.30" stroke-linecap="butt"/>
<rect x="502.6" y="536.3" width="12.4" height="78.5" fill="#ffffff" stroke="#111" stroke-width="1.35"/>
<line x1="508.8" y1="522.3" x2="508.8" y2="550.4" stroke="#111" stroke-width="1.20" stroke-linecap="butt"/>
<line x1="506.2" y1="522.3" x2="511.4" y2="522.3" stroke="#111" stroke-width="1.20" stroke-linecap="butt"/>
<line x1="506.2" y1="550.4" x2="511.4" y2="550.4" stroke="#111" stroke-width="1.20" stroke-linecap="butt"/>
<circle cx="508.6" cy="518.8" r="2.60" fill="#fff" stroke="#111" stroke-width="1.40"/>
<circle cx="508.6" cy="529.0" r="2.60" fill="#fff" stroke="#111" stroke-width="1.40"/>
<circle cx="504.4" cy="538.5" r="2.60" fill="#fff" stroke="#111" stroke-width="1.40"/>
<circle cx="513.2" cy="543.0" r="2.60" fill="#fff" stroke="#111" stroke-width="1.40"/>
<circle cx="508.6" cy="552.4" r="2.60" fill="#fff" stroke="#111" stroke-width="1.40"/>
<line x1="529.2" y1="614.8" x2="529.2" y2="620.3" stroke="#111" stroke-width="1.30" stroke-linecap="butt"/>
<rect x="523.0" y="594.2" width="12.4" height="20.6" fill="#9fa1a5" stroke="#111" stroke-width="1.35"/>
<line x1="529.2" y1="591.6" x2="529.2" y2="594.2" stroke="#111" stroke-width="1.20" stroke-linecap="butt"/>
<line x1="526.6" y1="591.6" x2="531.8" y2="591.6" stroke="#111" stroke-width="1.20" stroke-linecap="butt"/>
<circle cx="533.3" cy="587.8" r="2.60" fill="#fff" stroke="#111" stroke-width="1.40"/>
<circle cx="524.4" cy="592.4" r="2.60" fill="#fff" stroke="#111" stroke-width="1.40"/>
<circle cx="529.0" cy="591.5" r="2.60" fill="#fff" stroke="#111" stroke-width="1.40"/>
<circle cx="533.3" cy="594.6" r="2.60" fill="#fff" stroke="#111" stroke-width="1.40"/>
<circle cx="524.4" cy="598.1" r="2.60" fill="#fff" stroke="#111" stroke-width="1.40"/>
<line x1="549.5" y1="614.8" x2="549.5" y2="620.3" stroke="#111" stroke-width="1.30" stroke-linecap="butt"/>
<rect x="543.3" y="532.2" width="12.4" height="82.6" fill="#8086c9" stroke="#111" stroke-width="1.35"/>
<line x1="549.5" y1="515.0" x2="549.5" y2="549.4" stroke="#111" stroke-width="1.20" stroke-linecap="butt"/>
<line x1="546.9" y1="515.0" x2="552.1" y2="515.0" stroke="#111" stroke-width="1.20" stroke-linecap="butt"/>
<line x1="546.9" y1="549.4" x2="552.1" y2="549.4" stroke="#111" stroke-width="1.20" stroke-linecap="butt"/>
<circle cx="549.4" cy="512.9" r="2.60" fill="#fff" stroke="#111" stroke-width="1.40"/>
<circle cx="554.0" cy="522.1" r="2.60" fill="#fff" stroke="#111" stroke-width="1.40"/>
<circle cx="545.6" cy="526.1" r="2.60" fill="#fff" stroke="#111" stroke-width="1.40"/>
<circle cx="549.4" cy="546.3" r="2.60" fill="#fff" stroke="#111" stroke-width="1.40"/>
<circle cx="549.4" cy="553.1" r="2.60" fill="#fff" stroke="#111" stroke-width="1.40"/>
<text transform="translate(413.0 636.0) rotate(0.05) scale(1.000 1.060)" font-size="9.70" text-anchor="start" font-weight="bold" fill="#111" stroke="#111" stroke-width="0.22">OXA</text>
<text transform="translate(447.3 635.5) rotate(0.05) scale(1.000 1.060)" font-size="8.50" text-anchor="middle" font-weight="bold" fill="#111" stroke="#111" stroke-width="0.22">–</text>
<text transform="translate(467.6 635.5) rotate(0.05) scale(1.000 1.060)" font-size="8.50" text-anchor="middle" font-weight="bold" fill="#111" stroke="#111" stroke-width="0.22">–</text>
<text transform="translate(488.0 635.5) rotate(0.05) scale(1.000 1.060)" font-size="8.50" text-anchor="middle" font-weight="bold" fill="#111" stroke="#111" stroke-width="0.22">–</text>
<text transform="translate(508.8 635.5) rotate(0.05) scale(1.000 1.060)" font-size="8.50" text-anchor="middle" font-weight="bold" fill="#111" stroke="#111" stroke-width="0.22">+</text>
<text transform="translate(529.2 635.5) rotate(0.05) scale(1.000 1.060)" font-size="8.50" text-anchor="middle" font-weight="bold" fill="#111" stroke="#111" stroke-width="0.22">+</text>
<text transform="translate(549.5 635.5) rotate(0.05) scale(1.000 1.060)" font-size="8.50" text-anchor="middle" font-weight="bold" fill="#111" stroke="#111" stroke-width="0.22">+</text>
<text transform="translate(402.2 552.0) rotate(-90) scale(1.000 1.060)" font-size="9.70" text-anchor="middle" font-weight="bold" fill="#111" stroke="#111" stroke-width="0.22">TUNEL (H-score)</text>
<line x1="442.4" y1="497.0" x2="514.9" y2="497.0" stroke="#111" stroke-width="1.35" stroke-linecap="butt"/>
<text transform="translate(483.0 494.3) rotate(0.05) scale(1.000 1.000)" font-size="9.80" text-anchor="middle" font-weight="bold" fill="#111" stroke="#111" stroke-width="0.22"><tspan font-style="italic">P</tspan>=2.3×10<tspan dy="-4.5" font-size="7.4">-10</tspan></text>
<line x1="521.0" y1="497.0" x2="554.8" y2="497.0" stroke="#111" stroke-width="1.35" stroke-linecap="butt"/>
<text transform="translate(541.8 494.3) rotate(0.05) scale(1.000 1.000)" font-size="9.80" text-anchor="middle" font-weight="bold" fill="#111" stroke="#111" stroke-width="0.22"><tspan font-style="italic">P</tspan>=3.1×10<tspan dy="-4.5" font-size="7.4">-9</tspan></text>
<line x1="501.5" y1="513.4" x2="534.3" y2="513.4" stroke="#111" stroke-width="1.35" stroke-linecap="butt"/>
<text transform="translate(521.8 510.8) rotate(0.05) scale(1.000 1.000)" font-size="9.80" text-anchor="middle" font-weight="bold" fill="#111" stroke="#111" stroke-width="0.22"><tspan font-style="italic">P</tspan>=1.3×10<tspan dy="-4.5" font-size="7.4">-8</tspan></text>
<rect x="569.2" y="536.1" width="9.2" height="7.0" fill="#ffffff" stroke="#111" stroke-width="1.35"/>
<text transform="translate(586.6 543.3) rotate(0.05) scale(1.000 1.060)" font-size="9.70" text-anchor="start" font-weight="bold" fill="#111" stroke="#111" stroke-width="0.22">shNT</text>
<rect x="569.2" y="548.1" width="9.2" height="7.0" fill="#9fa1a5" stroke="#111" stroke-width="1.35"/>
<text transform="translate(586.6 555.3) rotate(0.05) scale(1.000 1.060)" font-size="9.70" text-anchor="start" font-weight="bold" fill="#111" stroke="#111" stroke-width="0.22">shSNAP23</text>
<rect x="569.2" y="559.9" width="9.2" height="7.0" fill="#8086c9" stroke="#111" stroke-width="1.35"/>
<text transform="translate(586.6 567.1) rotate(0.05) scale(1.000 1.060)" font-size="9.70" text-anchor="start" font-weight="bold" fill="#111" stroke="#111" stroke-width="0.22">sh+rSNAP23</text>
<text x="393.1" y="659.1" font-size="16.9" font-weight="normal" fill="#111" stroke="#111" stroke-width="1.0">I</text>
<text transform="translate(501.0 654.0) rotate(0.05) scale(1.000 1.060)" font-size="9.90" text-anchor="middle" font-weight="bold" fill="#111" stroke="#111" stroke-width="0.22">HT29 s.c. CDX model</text>
<line x1="434.4" y1="662.3" x2="434.4" y2="792.1" stroke="#111" stroke-width="1.45" stroke-linecap="butt"/>
<line x1="429.4" y1="792.8" x2="434.4" y2="792.8" stroke="#111" stroke-width="1.45" stroke-linecap="butt"/>
<text transform="translate(427.4 796.5) rotate(0.05) scale(1.000 1.060)" font-size="9.70" text-anchor="end" font-weight="bold" fill="#111" stroke="#111" stroke-width="0.22">0</text>
<line x1="429.4" y1="760.0" x2="434.4" y2="760.0" stroke="#111" stroke-width="1.45" stroke-linecap="butt"/>
<text transform="translate(427.4 763.7) rotate(0.05) scale(1.000 1.060)" font-size="9.70" text-anchor="end" font-weight="bold" fill="#111" stroke="#111" stroke-width="0.22">1</text>
<line x1="429.4" y1="727.2" x2="434.4" y2="727.2" stroke="#111" stroke-width="1.45" stroke-linecap="butt"/>
<text transform="translate(427.4 730.9) rotate(0.05) scale(1.000 1.060)" font-size="9.70" text-anchor="end" font-weight="bold" fill="#111" stroke="#111" stroke-width="0.22">2</text>
<line x1="429.4" y1="694.4" x2="434.4" y2="694.4" stroke="#111" stroke-width="1.45" stroke-linecap="butt"/>
<text transform="translate(427.4 698.1) rotate(0.05) scale(1.000 1.060)" font-size="9.70" text-anchor="end" font-weight="bold" fill="#111" stroke="#111" stroke-width="0.22">3</text>
<line x1="429.4" y1="661.6" x2="434.4" y2="661.6" stroke="#111" stroke-width="1.45" stroke-linecap="butt"/>
<text transform="translate(427.4 665.3) rotate(0.05) scale(1.000 1.060)" font-size="9.70" text-anchor="end" font-weight="bold" fill="#111" stroke="#111" stroke-width="0.22">4</text>
<line x1="433.8" y1="792.8" x2="565.4" y2="792.8" stroke="#111" stroke-width="1.30" stroke-linecap="butt"/>
<line x1="447.4" y1="792.8" x2="447.4" y2="798.3" stroke="#111" stroke-width="1.30" stroke-linecap="butt"/>
<rect x="441.1" y="738.0" width="12.6" height="54.8" fill="#ffffff" stroke="#111" stroke-width="1.35"/>
<line x1="447.4" y1="734.1" x2="447.4" y2="738.0" stroke="#111" stroke-width="1.20" stroke-linecap="butt"/>
<line x1="444.8" y1="734.1" x2="450.0" y2="734.1" stroke="#111" stroke-width="1.20" stroke-linecap="butt"/>
<circle cx="447.4" cy="732.9" r="2.60" fill="#fff" stroke="#111" stroke-width="1.40"/>
<circle cx="442.7" cy="736.5" r="2.60" fill="#fff" stroke="#111" stroke-width="1.40"/>
<circle cx="452.1" cy="737.1" r="2.60" fill="#fff" stroke="#111" stroke-width="1.40"/>
<circle cx="444.6" cy="742.1" r="2.60" fill="#fff" stroke="#111" stroke-width="1.40"/>
<circle cx="449.6" cy="742.9" r="2.60" fill="#fff" stroke="#111" stroke-width="1.40"/>
<circle cx="446.0" cy="745.6" r="2.60" fill="#fff" stroke="#111" stroke-width="1.40"/>
<line x1="467.8" y1="792.8" x2="467.8" y2="798.3" stroke="#111" stroke-width="1.30" stroke-linecap="butt"/>
<rect x="461.5" y="758.7" width="12.6" height="34.1" fill="#9fa1a5" stroke="#111" stroke-width="1.35"/>
<line x1="467.8" y1="754.8" x2="467.8" y2="758.7" stroke="#111" stroke-width="1.20" stroke-linecap="butt"/>
<line x1="465.2" y1="754.8" x2="470.4" y2="754.8" stroke="#111" stroke-width="1.20" stroke-linecap="butt"/>
<circle cx="468.2" cy="754.0" r="2.60" fill="#fff" stroke="#111" stroke-width="1.40"/>
<circle cx="463.5" cy="757.3" r="2.60" fill="#fff" stroke="#111" stroke-width="1.40"/>
<circle cx="472.9" cy="757.9" r="2.60" fill="#fff" stroke="#111" stroke-width="1.40"/>
<circle cx="465.4" cy="761.5" r="2.60" fill="#fff" stroke="#111" stroke-width="1.40"/>
<circle cx="471.0" cy="760.9" r="2.60" fill="#fff" stroke="#111" stroke-width="1.40"/>
<circle cx="468.2" cy="767.0" r="2.60" fill="#fff" stroke="#111" stroke-width="1.40"/>
<line x1="488.3" y1="792.8" x2="488.3" y2="798.3" stroke="#111" stroke-width="1.30" stroke-linecap="butt"/>
<rect x="482.0" y="732.8" width="12.6" height="60.0" fill="#8086c9" stroke="#111" stroke-width="1.35"/>
<line x1="488.3" y1="728.2" x2="488.3" y2="732.8" stroke="#111" stroke-width="1.20" stroke-linecap="butt"/>
<line x1="485.7" y1="728.2" x2="490.9" y2="728.2" stroke="#111" stroke-width="1.20" stroke-linecap="butt"/>
<circle cx="483.8" cy="731.0" r="2.60" fill="#fff" stroke="#111" stroke-width="1.40"/>
<circle cx="493.2" cy="730.1" r="2.60" fill="#fff" stroke="#111" stroke-width="1.40"/>
<circle cx="488.6" cy="732.6" r="2.60" fill="#fff" stroke="#111" stroke-width="1.40"/>
<circle cx="486.0" cy="734.5" r="2.60" fill="#fff" stroke="#111" stroke-width="1.40"/>
<circle cx="489.0" cy="742.1" r="2.60" fill="#fff" stroke="#111" stroke-width="1.40"/>
<line x1="509.0" y1="792.8" x2="509.0" y2="798.3" stroke="#111" stroke-width="1.30" stroke-linecap="butt"/>
<rect x="502.7" y="708.8" width="12.6" height="84.0" fill="#ffffff" stroke="#111" stroke-width="1.35"/>
<line x1="509.0" y1="705.6" x2="509.0" y2="712.1" stroke="#111" stroke-width="1.20" stroke-linecap="butt"/>
<line x1="506.4" y1="705.6" x2="511.6" y2="705.6" stroke="#111" stroke-width="1.20" stroke-linecap="butt"/>
<line x1="506.4" y1="712.1" x2="511.6" y2="712.1" stroke="#111" stroke-width="1.20" stroke-linecap="butt"/>
<circle cx="506.2" cy="706.0" r="2.60" fill="#fff" stroke="#111" stroke-width="1.40"/>
<circle cx="511.2" cy="703.2" r="2.60" fill="#fff" stroke="#111" stroke-width="1.40"/>
<circle cx="515.4" cy="705.4" r="2.60" fill="#fff" stroke="#111" stroke-width="1.40"/>
<circle cx="505.7" cy="712.9" r="2.60" fill="#fff" stroke="#111" stroke-width="1.40"/>
<circle cx="513.2" cy="710.2" r="2.60" fill="#fff" stroke="#111" stroke-width="1.40"/>
<circle cx="509.0" cy="709.5" r="2.60" fill="#fff" stroke="#111" stroke-width="1.40"/>
<line x1="529.3" y1="792.8" x2="529.3" y2="798.3" stroke="#111" stroke-width="1.30" stroke-linecap="butt"/>
<rect x="523.0" y="733.8" width="12.6" height="59.0" fill="#9fa1a5" stroke="#111" stroke-width="1.35"/>
<line x1="529.3" y1="726.2" x2="529.3" y2="733.8" stroke="#111" stroke-width="1.20" stroke-linecap="butt"/>
<line x1="526.7" y1="726.2" x2="531.9" y2="726.2" stroke="#111" stroke-width="1.20" stroke-linecap="butt"/>
<circle cx="530.6" cy="719.9" r="2.60" fill="#fff" stroke="#111" stroke-width="1.40"/>
<circle cx="526.5" cy="737.9" r="2.60" fill="#fff" stroke="#111" stroke-width="1.40"/>
<circle cx="532.0" cy="738.7" r="2.60" fill="#fff" stroke="#111" stroke-width="1.40"/>
<circle cx="536.2" cy="737.1" r="2.60" fill="#fff" stroke="#111" stroke-width="1.40"/>
<line x1="549.9" y1="792.8" x2="549.9" y2="798.3" stroke="#111" stroke-width="1.30" stroke-linecap="butt"/>
<rect x="543.6" y="719.0" width="12.6" height="73.8" fill="#8086c9" stroke="#111" stroke-width="1.35"/>
<line x1="549.9" y1="714.7" x2="549.9" y2="723.3" stroke="#111" stroke-width="1.20" stroke-linecap="butt"/>
<line x1="547.3" y1="714.7" x2="552.5" y2="714.7" stroke="#111" stroke-width="1.20" stroke-linecap="butt"/>
<line x1="547.3" y1="723.3" x2="552.5" y2="723.3" stroke="#111" stroke-width="1.20" stroke-linecap="butt"/>
<circle cx="550.9" cy="712.9" r="2.60" fill="#fff" stroke="#111" stroke-width="1.40"/>
<circle cx="555.6" cy="715.1" r="2.60" fill="#fff" stroke="#111" stroke-width="1.40"/>
<circle cx="550.6" cy="717.1" r="2.60" fill="#fff" stroke="#111" stroke-width="1.40"/>
<circle cx="554.2" cy="721.2" r="2.60" fill="#fff" stroke="#111" stroke-width="1.40"/>
<circle cx="550.0" cy="725.4" r="2.60" fill="#fff" stroke="#111" stroke-width="1.40"/>
<text transform="translate(413.0 814.0) rotate(0.05) scale(1.000 1.060)" font-size="9.70" text-anchor="start" font-weight="bold" fill="#111" stroke="#111" stroke-width="0.22">OXA</text>
<text transform="translate(447.4 813.5) rotate(0.05) scale(1.000 1.060)" font-size="8.50" text-anchor="middle" font-weight="bold" fill="#111" stroke="#111" stroke-width="0.22">–</text>
<text transform="translate(467.8 813.5) rotate(0.05) scale(1.000 1.060)" font-size="8.50" text-anchor="middle" font-weight="bold" fill="#111" stroke="#111" stroke-width="0.22">–</text>
<text transform="translate(488.3 813.5) rotate(0.05) scale(1.000 1.060)" font-size="8.50" text-anchor="middle" font-weight="bold" fill="#111" stroke="#111" stroke-width="0.22">–</text>
<text transform="translate(509.0 813.5) rotate(0.05) scale(1.000 1.060)" font-size="8.50" text-anchor="middle" font-weight="bold" fill="#111" stroke="#111" stroke-width="0.22">+</text>
<text transform="translate(529.3 813.5) rotate(0.05) scale(1.000 1.060)" font-size="8.50" text-anchor="middle" font-weight="bold" fill="#111" stroke="#111" stroke-width="0.22">+</text>
<text transform="translate(549.9 813.5) rotate(0.05) scale(1.000 1.060)" font-size="8.50" text-anchor="middle" font-weight="bold" fill="#111" stroke="#111" stroke-width="0.22">+</text>
<text transform="translate(402.4 729.5) rotate(-90) scale(1.000 1.060)" font-size="9.50" text-anchor="middle" font-weight="bold" fill="#111" stroke="#111" stroke-width="0.22">Relative ROS level in tissue</text>
<line x1="442.4" y1="673.5" x2="515.4" y2="673.5" stroke="#111" stroke-width="1.35" stroke-linecap="butt"/>
<text transform="translate(481.5 671.3) rotate(0.05) scale(1.000 1.000)" font-size="9.80" text-anchor="middle" font-weight="bold" fill="#111" stroke="#111" stroke-width="0.22"><tspan font-style="italic">P</tspan>=1.7×10<tspan dy="-4.5" font-size="7.4">-7</tspan></text>
<line x1="522.9" y1="679.1" x2="554.8" y2="679.1" stroke="#111" stroke-width="1.35" stroke-linecap="butt"/>
<text transform="translate(539.2 676.5) rotate(0.05) scale(1.000 1.000)" font-size="9.80" text-anchor="middle" font-weight="bold" fill="#111" stroke="#111" stroke-width="0.22"><tspan font-style="italic">P</tspan>=0.0035</text>
<line x1="503.4" y1="697.7" x2="535.6" y2="697.7" stroke="#111" stroke-width="1.35" stroke-linecap="butt"/>
<text transform="translate(529.3 695.0) rotate(0.05) scale(1.000 1.000)" font-size="9.80" text-anchor="middle" font-weight="bold" fill="#111" stroke="#111" stroke-width="0.22"><tspan font-style="italic">P</tspan>=2.8×10<tspan dy="-4.5" font-size="7.4">-6</tspan></text>
<line x1="462.1" y1="706.8" x2="494.6" y2="706.8" stroke="#111" stroke-width="1.35" stroke-linecap="butt"/>
<text transform="translate(476.6 704.2) rotate(0.05) scale(1.000 1.000)" font-size="9.80" text-anchor="middle" font-weight="bold" fill="#111" stroke="#111" stroke-width="0.22"><tspan font-style="italic">P</tspan>=2.0×10<tspan dy="-4.5" font-size="7.4">-6</tspan></text>
<line x1="441.9" y1="725.4" x2="474.3" y2="725.4" stroke="#111" stroke-width="1.35" stroke-linecap="butt"/>
<text transform="translate(462.0 722.8) rotate(0.05) scale(1.000 1.000)" font-size="9.80" text-anchor="middle" font-weight="bold" fill="#111" stroke="#111" stroke-width="0.22"><tspan font-style="italic">P</tspan>=6.1×10<tspan dy="-4.5" font-size="7.4">-5</tspan></text>
<rect x="569.4" y="708.5" width="9.0" height="7.0" fill="#ffffff" stroke="#111" stroke-width="1.35"/>
<text transform="translate(586.4 715.7) rotate(0.05) scale(1.000 1.060)" font-size="9.70" text-anchor="start" font-weight="bold" fill="#111" stroke="#111" stroke-width="0.22">shNT</text>
<rect x="569.4" y="720.1" width="9.0" height="7.0" fill="#9fa1a5" stroke="#111" stroke-width="1.35"/>
<text transform="translate(586.4 727.3) rotate(0.05) scale(1.000 1.060)" font-size="9.70" text-anchor="start" font-weight="bold" fill="#111" stroke="#111" stroke-width="0.22">shSNAP23</text>
<rect x="569.4" y="731.6" width="9.0" height="7.0" fill="#8086c9" stroke="#111" stroke-width="1.35"/>
<text transform="translate(586.4 738.8) rotate(0.05) scale(1.000 1.060)" font-size="9.70" text-anchor="start" font-weight="bold" fill="#111" stroke="#111" stroke-width="0.22">sh+rSNAP23</text>
</svg>
</body>
</html>
